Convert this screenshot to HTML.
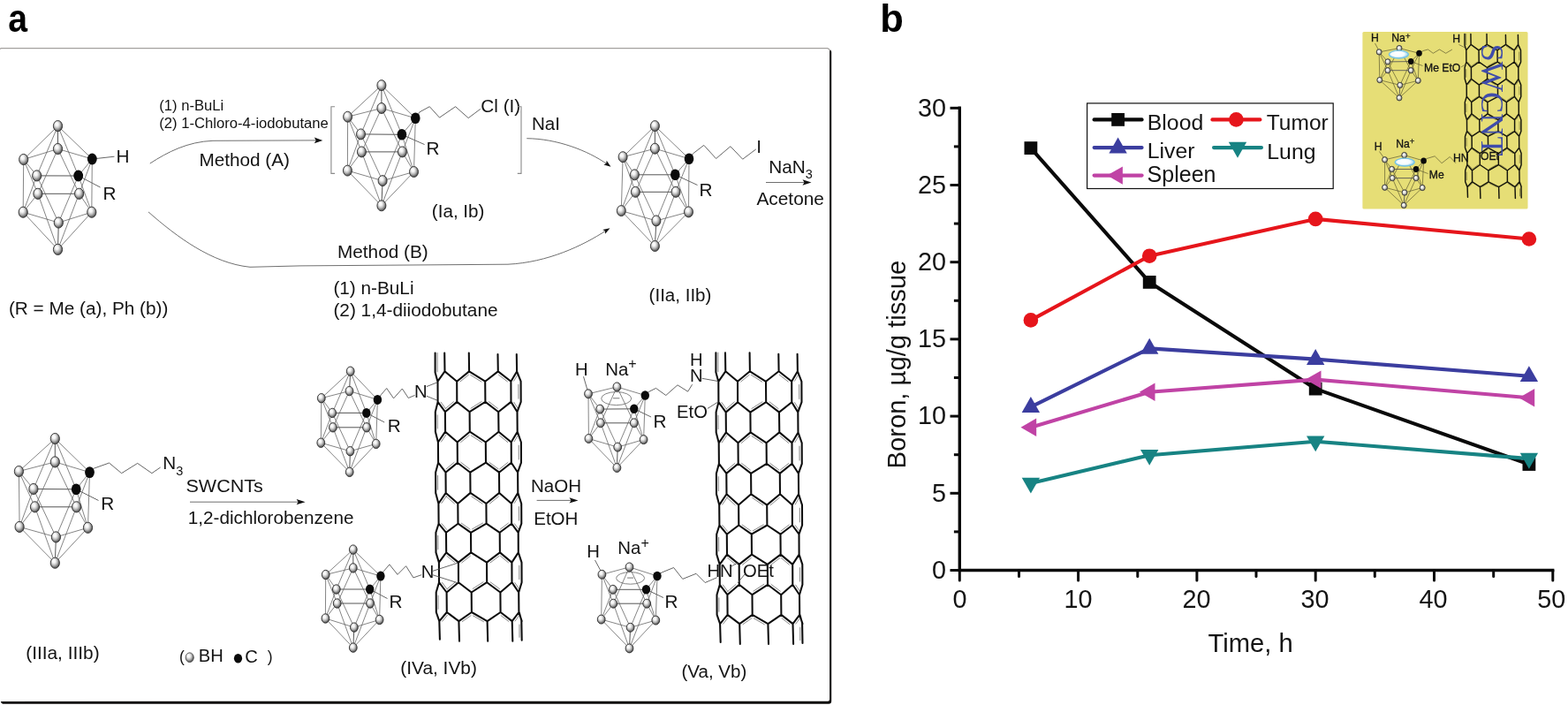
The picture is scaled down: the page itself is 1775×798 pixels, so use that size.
<!DOCTYPE html>
<html lang="en"><head><meta charset="utf-8"><title>Carborane-SWCNT synthesis and boron biodistribution</title>
<style>html,body{margin:0;padding:0;background:#fff}body{width:1775px;height:798px;overflow:hidden}svg{display:block}</style>
</head><body>
<svg width="1775" height="798" viewBox="0 0 1775 798" font-family="Liberation Sans, Arial, Helvetica, sans-serif" fill="#131313" role="img" aria-label="Synthesis scheme of carborane-appended SWCNTs and boron tissue distribution chart">
<defs>
<radialGradient id="sph" cx="0.44" cy="0.42" r="0.62" fx="0.36" fy="0.30"><stop offset="0" stop-color="#ffffff"/><stop offset="0.28" stop-color="#f4f4f4"/><stop offset="0.56" stop-color="#bcbcbc"/><stop offset="0.82" stop-color="#6e6e6e"/><stop offset="1" stop-color="#363636"/></radialGradient>
<radialGradient id="sphy" cx="0.5" cy="0.5" r="0.5" fx="0.36" fy="0.32"><stop offset="0" stop-color="#ffffff"/><stop offset="0.35" stop-color="#f2f2f0"/><stop offset="0.7" stop-color="#b4b4ac"/><stop offset="1" stop-color="#4a4a40"/></radialGradient>
<radialGradient id="bell" cx="0.45" cy="0.45" r="0.55"><stop offset="0" stop-color="#ffffff"/><stop offset="0.6" stop-color="#f6fbfd"/><stop offset="0.85" stop-color="#b4e0f2"/><stop offset="1" stop-color="#84cbe8"/></radialGradient>
</defs>
<rect width="1775" height="798" fill="#ffffff"/>
<path d="M0,55.6 L1.2,54.6 L936.8,54.6 Q938.6,55 939.4,57" stroke="#a3a09e" stroke-width="1.3" fill="none"/>
<path d="M939.1,57.6 L940.3,56.6 L941.2,58.5 L941.2,793.6 Q941.2,796.8 938,796.8 L3.2,796.8 Q1.6,796.3 0.8,793.9 L937.2,793.8 Q939.1,793.8 939.1,791.6 Z" fill="#0b0908"/>
<text transform="translate(9.2,35.9) scale(0.9,1)" font-size="43.5" font-weight="bold" fill="#000">a</text>
<text x="996.3" y="35.9" font-size="43.5" font-weight="bold" fill="#000">b</text>
<line x1="104.3" y1="180.0" x2="129.5" y2="177.2" stroke="#555" stroke-width="0.9"/>
<line x1="88.7" y1="199.0" x2="113.5" y2="212.0" stroke="#555" stroke-width="0.9"/>
<g>
<line x1="65.5" y1="142.6" x2="26.7" y2="180.5" stroke="#666" stroke-width="0.8"/>
<line x1="65.5" y1="142.6" x2="65.5" y2="168.5" stroke="#555" stroke-width="1.0"/>
<line x1="65.5" y1="142.6" x2="104.3" y2="180.0" stroke="#666" stroke-width="0.8"/>
<line x1="65.5" y1="142.6" x2="41.7" y2="198.9" stroke="#666" stroke-width="0.8"/>
<line x1="65.5" y1="142.6" x2="88.7" y2="199.0" stroke="#666" stroke-width="0.8"/>
<line x1="65.5" y1="168.5" x2="26.7" y2="180.5" stroke="#666" stroke-width="0.8"/>
<line x1="65.5" y1="168.5" x2="104.3" y2="180.0" stroke="#666" stroke-width="0.8"/>
<line x1="26.7" y1="180.5" x2="41.7" y2="198.9" stroke="#666" stroke-width="0.8"/>
<line x1="104.3" y1="180.0" x2="88.7" y2="199.0" stroke="#666" stroke-width="0.8"/>
<line x1="41.7" y1="198.9" x2="88.7" y2="199.0" stroke="#555" stroke-width="1.0"/>
<line x1="26.7" y1="180.5" x2="26.2" y2="240.2" stroke="#666" stroke-width="0.8"/>
<line x1="26.7" y1="180.5" x2="42.9" y2="219.3" stroke="#666" stroke-width="0.8"/>
<line x1="65.5" y1="168.5" x2="42.9" y2="219.3" stroke="#666" stroke-width="0.8"/>
<line x1="65.5" y1="168.5" x2="89.6" y2="219.3" stroke="#666" stroke-width="0.8"/>
<line x1="104.3" y1="180.0" x2="89.6" y2="219.3" stroke="#666" stroke-width="0.8"/>
<line x1="104.3" y1="180.0" x2="103.8" y2="240.2" stroke="#666" stroke-width="0.8"/>
<line x1="88.7" y1="199.0" x2="103.8" y2="240.2" stroke="#666" stroke-width="0.8"/>
<line x1="88.7" y1="199.0" x2="66.3" y2="252.0" stroke="#666" stroke-width="0.8"/>
<line x1="41.7" y1="198.9" x2="66.3" y2="252.0" stroke="#666" stroke-width="0.8"/>
<line x1="41.7" y1="198.9" x2="26.2" y2="240.2" stroke="#666" stroke-width="0.8"/>
<line x1="66.3" y1="252.0" x2="26.2" y2="240.2" stroke="#666" stroke-width="0.8"/>
<line x1="66.3" y1="252.0" x2="103.8" y2="240.2" stroke="#666" stroke-width="0.8"/>
<line x1="26.2" y1="240.2" x2="42.9" y2="219.3" stroke="#666" stroke-width="0.8"/>
<line x1="103.8" y1="240.2" x2="89.6" y2="219.3" stroke="#666" stroke-width="0.8"/>
<line x1="42.9" y1="219.3" x2="89.6" y2="219.3" stroke="#555" stroke-width="1.0"/>
<line x1="65.5" y1="282.4" x2="26.2" y2="240.2" stroke="#666" stroke-width="0.8"/>
<line x1="65.5" y1="282.4" x2="103.8" y2="240.2" stroke="#666" stroke-width="0.8"/>
<line x1="65.5" y1="282.4" x2="66.3" y2="252.0" stroke="#555" stroke-width="1.0"/>
<line x1="65.5" y1="282.4" x2="42.9" y2="219.3" stroke="#666" stroke-width="0.8"/>
<line x1="65.5" y1="282.4" x2="89.6" y2="219.3" stroke="#666" stroke-width="0.8"/>
<ellipse cx="65.5" cy="142.6" rx="5.1" ry="6.1" fill="url(#sph)" stroke="#2e2e2e" stroke-width="0.9"/>
<ellipse cx="65.5" cy="168.5" rx="5.1" ry="6.1" fill="url(#sph)" stroke="#2e2e2e" stroke-width="0.9"/>
<ellipse cx="26.7" cy="180.5" rx="5.1" ry="6.1" fill="url(#sph)" stroke="#2e2e2e" stroke-width="0.9"/>
<ellipse cx="104.3" cy="180.0" rx="5.4" ry="6.4" fill="#0a0a0a"/>
<ellipse cx="42.9" cy="219.3" rx="5.1" ry="6.1" fill="url(#sph)" stroke="#2e2e2e" stroke-width="0.9"/>
<ellipse cx="89.6" cy="219.3" rx="5.1" ry="6.1" fill="url(#sph)" stroke="#2e2e2e" stroke-width="0.9"/>
<ellipse cx="41.7" cy="198.9" rx="5.1" ry="6.1" fill="url(#sph)" stroke="#2e2e2e" stroke-width="0.9"/>
<ellipse cx="88.7" cy="199.0" rx="5.4" ry="6.4" fill="#0a0a0a"/>
<ellipse cx="26.2" cy="240.2" rx="5.1" ry="6.1" fill="url(#sph)" stroke="#2e2e2e" stroke-width="0.9"/>
<ellipse cx="103.8" cy="240.2" rx="5.1" ry="6.1" fill="url(#sph)" stroke="#2e2e2e" stroke-width="0.9"/>
<ellipse cx="66.3" cy="252.0" rx="5.1" ry="6.1" fill="url(#sph)" stroke="#2e2e2e" stroke-width="0.9"/>
<ellipse cx="65.5" cy="282.4" rx="5.1" ry="6.1" fill="url(#sph)" stroke="#2e2e2e" stroke-width="0.9"/>
</g>
<text x="131.4" y="183.8" font-size="20.76">H</text>
<text x="116.4" y="225.9" font-size="20.76">R</text>
<polyline points="470.3,133.8 475.0,126.8 486.3,120.7 497.5,133.1 515.6,120.7 530.2,133.6 543.8,123.4" stroke="#555" stroke-width="0.9" fill="none"/>
<line x1="454.9" y1="152.3" x2="480.6" y2="163.6" stroke="#555" stroke-width="0.9"/>
<g>
<line x1="431.9" y1="96.6" x2="393.6" y2="132.2" stroke="#666" stroke-width="0.8"/>
<line x1="431.9" y1="96.6" x2="431.9" y2="122.5" stroke="#555" stroke-width="1.0"/>
<line x1="431.9" y1="96.6" x2="470.3" y2="133.8" stroke="#666" stroke-width="0.8"/>
<line x1="431.9" y1="96.6" x2="408.5" y2="151.9" stroke="#666" stroke-width="0.8"/>
<line x1="431.9" y1="96.6" x2="454.9" y2="152.3" stroke="#666" stroke-width="0.8"/>
<line x1="431.9" y1="122.5" x2="393.6" y2="132.2" stroke="#666" stroke-width="0.8"/>
<line x1="431.9" y1="122.5" x2="470.3" y2="133.8" stroke="#666" stroke-width="0.8"/>
<line x1="393.6" y1="132.2" x2="408.5" y2="151.9" stroke="#666" stroke-width="0.8"/>
<line x1="470.3" y1="133.8" x2="454.9" y2="152.3" stroke="#666" stroke-width="0.8"/>
<line x1="408.5" y1="151.9" x2="454.9" y2="152.3" stroke="#555" stroke-width="1.0"/>
<line x1="393.6" y1="132.2" x2="393.4" y2="193.1" stroke="#666" stroke-width="0.8"/>
<line x1="393.6" y1="132.2" x2="409.4" y2="171.9" stroke="#666" stroke-width="0.8"/>
<line x1="431.9" y1="122.5" x2="409.4" y2="171.9" stroke="#666" stroke-width="0.8"/>
<line x1="431.9" y1="122.5" x2="455.4" y2="171.9" stroke="#666" stroke-width="0.8"/>
<line x1="470.3" y1="133.8" x2="455.4" y2="171.9" stroke="#666" stroke-width="0.8"/>
<line x1="470.3" y1="133.8" x2="468.5" y2="194.5" stroke="#666" stroke-width="0.8"/>
<line x1="454.9" y1="152.3" x2="468.5" y2="194.5" stroke="#666" stroke-width="0.8"/>
<line x1="454.9" y1="152.3" x2="433.1" y2="204.6" stroke="#666" stroke-width="0.8"/>
<line x1="408.5" y1="151.9" x2="433.1" y2="204.6" stroke="#666" stroke-width="0.8"/>
<line x1="408.5" y1="151.9" x2="393.4" y2="193.1" stroke="#666" stroke-width="0.8"/>
<line x1="433.1" y1="204.6" x2="393.4" y2="193.1" stroke="#666" stroke-width="0.8"/>
<line x1="433.1" y1="204.6" x2="468.5" y2="194.5" stroke="#666" stroke-width="0.8"/>
<line x1="393.4" y1="193.1" x2="409.4" y2="171.9" stroke="#666" stroke-width="0.8"/>
<line x1="468.5" y1="194.5" x2="455.4" y2="171.9" stroke="#666" stroke-width="0.8"/>
<line x1="409.4" y1="171.9" x2="455.4" y2="171.9" stroke="#555" stroke-width="1.0"/>
<line x1="431.9" y1="232.8" x2="393.4" y2="193.1" stroke="#666" stroke-width="0.8"/>
<line x1="431.9" y1="232.8" x2="468.5" y2="194.5" stroke="#666" stroke-width="0.8"/>
<line x1="431.9" y1="232.8" x2="433.1" y2="204.6" stroke="#555" stroke-width="1.0"/>
<line x1="431.9" y1="232.8" x2="409.4" y2="171.9" stroke="#666" stroke-width="0.8"/>
<line x1="431.9" y1="232.8" x2="455.4" y2="171.9" stroke="#666" stroke-width="0.8"/>
<ellipse cx="431.9" cy="96.6" rx="5.0" ry="6.0" fill="url(#sph)" stroke="#2e2e2e" stroke-width="0.9"/>
<ellipse cx="431.9" cy="122.5" rx="5.0" ry="6.0" fill="url(#sph)" stroke="#2e2e2e" stroke-width="0.9"/>
<ellipse cx="393.6" cy="132.2" rx="5.0" ry="6.0" fill="url(#sph)" stroke="#2e2e2e" stroke-width="0.9"/>
<ellipse cx="470.3" cy="133.8" rx="5.3" ry="6.3" fill="#0a0a0a"/>
<ellipse cx="409.4" cy="171.9" rx="5.0" ry="6.0" fill="url(#sph)" stroke="#2e2e2e" stroke-width="0.9"/>
<ellipse cx="455.4" cy="171.9" rx="5.0" ry="6.0" fill="url(#sph)" stroke="#2e2e2e" stroke-width="0.9"/>
<ellipse cx="408.5" cy="151.9" rx="5.0" ry="6.0" fill="url(#sph)" stroke="#2e2e2e" stroke-width="0.9"/>
<ellipse cx="454.9" cy="152.3" rx="5.3" ry="6.3" fill="#0a0a0a"/>
<ellipse cx="393.4" cy="193.1" rx="5.0" ry="6.0" fill="url(#sph)" stroke="#2e2e2e" stroke-width="0.9"/>
<ellipse cx="468.5" cy="194.5" rx="5.0" ry="6.0" fill="url(#sph)" stroke="#2e2e2e" stroke-width="0.9"/>
<ellipse cx="433.1" cy="204.6" rx="5.0" ry="6.0" fill="url(#sph)" stroke="#2e2e2e" stroke-width="0.9"/>
<ellipse cx="431.9" cy="232.8" rx="5.0" ry="6.0" fill="url(#sph)" stroke="#2e2e2e" stroke-width="0.9"/>
</g>
<text x="544.3" y="126.9" font-size="20.76">Cl (I)</text>
<text x="482.4" y="175.2" font-size="20.76">R</text>
<polyline points="379.0,120.8 374.9,120.8 374.9,196.4 379.0,196.4" stroke="#8a8a8a" stroke-width="1.1" fill="none"/>
<polyline points="585.8,120.8 590.0,120.8 590.0,196.4 585.8,196.4" stroke="#8a8a8a" stroke-width="1.1" fill="none"/>
<text x="488.8" y="246.3" font-size="20.65">(Ia, Ib)</text>
<polyline points="780.0,179.7 784.3,174.0 796.8,164.4 810.6,179.5 826.9,165.7 840.7,180.2 855.8,168.9" stroke="#555" stroke-width="0.9" fill="none"/>
<line x1="764.3" y1="197.8" x2="789.5" y2="209.5" stroke="#555" stroke-width="0.9"/>
<g>
<line x1="741.4" y1="142.6" x2="705.1" y2="177.7" stroke="#666" stroke-width="0.8"/>
<line x1="741.4" y1="142.6" x2="741.4" y2="168.2" stroke="#555" stroke-width="1.0"/>
<line x1="741.4" y1="142.6" x2="780.0" y2="179.7" stroke="#666" stroke-width="0.8"/>
<line x1="741.4" y1="142.6" x2="718.4" y2="197.8" stroke="#666" stroke-width="0.8"/>
<line x1="741.4" y1="142.6" x2="764.3" y2="197.8" stroke="#666" stroke-width="0.8"/>
<line x1="741.4" y1="168.2" x2="705.1" y2="177.7" stroke="#666" stroke-width="0.8"/>
<line x1="741.4" y1="168.2" x2="780.0" y2="179.7" stroke="#666" stroke-width="0.8"/>
<line x1="705.1" y1="177.7" x2="718.4" y2="197.8" stroke="#666" stroke-width="0.8"/>
<line x1="780.0" y1="179.7" x2="764.3" y2="197.8" stroke="#666" stroke-width="0.8"/>
<line x1="718.4" y1="197.8" x2="764.3" y2="197.8" stroke="#555" stroke-width="1.0"/>
<line x1="705.1" y1="177.7" x2="703.3" y2="238.6" stroke="#666" stroke-width="0.8"/>
<line x1="705.1" y1="177.7" x2="719.4" y2="217.3" stroke="#666" stroke-width="0.8"/>
<line x1="741.4" y1="168.2" x2="719.4" y2="217.3" stroke="#666" stroke-width="0.8"/>
<line x1="741.4" y1="168.2" x2="765.0" y2="217.3" stroke="#666" stroke-width="0.8"/>
<line x1="780.0" y1="179.7" x2="765.0" y2="217.3" stroke="#666" stroke-width="0.8"/>
<line x1="780.0" y1="179.7" x2="779.5" y2="239.9" stroke="#666" stroke-width="0.8"/>
<line x1="764.3" y1="197.8" x2="779.5" y2="239.9" stroke="#666" stroke-width="0.8"/>
<line x1="764.3" y1="197.8" x2="742.9" y2="249.9" stroke="#666" stroke-width="0.8"/>
<line x1="718.4" y1="197.8" x2="742.9" y2="249.9" stroke="#666" stroke-width="0.8"/>
<line x1="718.4" y1="197.8" x2="703.3" y2="238.6" stroke="#666" stroke-width="0.8"/>
<line x1="742.9" y1="249.9" x2="703.3" y2="238.6" stroke="#666" stroke-width="0.8"/>
<line x1="742.9" y1="249.9" x2="779.5" y2="239.9" stroke="#666" stroke-width="0.8"/>
<line x1="703.3" y1="238.6" x2="719.4" y2="217.3" stroke="#666" stroke-width="0.8"/>
<line x1="779.5" y1="239.9" x2="765.0" y2="217.3" stroke="#666" stroke-width="0.8"/>
<line x1="719.4" y1="217.3" x2="765.0" y2="217.3" stroke="#555" stroke-width="1.0"/>
<line x1="741.4" y1="278.5" x2="703.3" y2="238.6" stroke="#666" stroke-width="0.8"/>
<line x1="741.4" y1="278.5" x2="779.5" y2="239.9" stroke="#666" stroke-width="0.8"/>
<line x1="741.4" y1="278.5" x2="742.9" y2="249.9" stroke="#555" stroke-width="1.0"/>
<line x1="741.4" y1="278.5" x2="719.4" y2="217.3" stroke="#666" stroke-width="0.8"/>
<line x1="741.4" y1="278.5" x2="765.0" y2="217.3" stroke="#666" stroke-width="0.8"/>
<ellipse cx="741.4" cy="142.6" rx="5.0" ry="6.0" fill="url(#sph)" stroke="#2e2e2e" stroke-width="0.9"/>
<ellipse cx="741.4" cy="168.2" rx="5.0" ry="6.0" fill="url(#sph)" stroke="#2e2e2e" stroke-width="0.9"/>
<ellipse cx="705.1" cy="177.7" rx="5.0" ry="6.0" fill="url(#sph)" stroke="#2e2e2e" stroke-width="0.9"/>
<ellipse cx="780.0" cy="179.7" rx="5.3" ry="6.3" fill="#0a0a0a"/>
<ellipse cx="719.4" cy="217.3" rx="5.0" ry="6.0" fill="url(#sph)" stroke="#2e2e2e" stroke-width="0.9"/>
<ellipse cx="765.0" cy="217.3" rx="5.0" ry="6.0" fill="url(#sph)" stroke="#2e2e2e" stroke-width="0.9"/>
<ellipse cx="718.4" cy="197.8" rx="5.0" ry="6.0" fill="url(#sph)" stroke="#2e2e2e" stroke-width="0.9"/>
<ellipse cx="764.3" cy="197.8" rx="5.3" ry="6.3" fill="#0a0a0a"/>
<ellipse cx="703.3" cy="238.6" rx="5.0" ry="6.0" fill="url(#sph)" stroke="#2e2e2e" stroke-width="0.9"/>
<ellipse cx="779.5" cy="239.9" rx="5.0" ry="6.0" fill="url(#sph)" stroke="#2e2e2e" stroke-width="0.9"/>
<ellipse cx="742.9" cy="249.9" rx="5.0" ry="6.0" fill="url(#sph)" stroke="#2e2e2e" stroke-width="0.9"/>
<ellipse cx="741.4" cy="278.5" rx="5.0" ry="6.0" fill="url(#sph)" stroke="#2e2e2e" stroke-width="0.9"/>
</g>
<text x="856.2" y="173.0" font-size="20.76">I</text>
<text x="791.6" y="222.0" font-size="20.76">R</text>
<text x="734.6" y="341.1" font-size="20.55">(IIa, IIb)</text>
<text x="180.3" y="124.6" font-size="16.6">(1) n-BuLi</text>
<text x="180.3" y="144.9" font-size="16.65">(2) 1-Chloro-4-iodobutane</text>
<text x="225.4" y="187.7" font-size="20.76">Method (A)</text>
<text x="382.0" y="291.7" font-size="20.76">Method (B)</text>
<text x="377.4" y="333.1" font-size="20.76">(1) n-BuLi</text>
<text x="377.4" y="358.2" font-size="20.81">(2) 1,4-diiodobutane</text>
<text x="9.9" y="356.0" font-size="20.76">(R = Me (a), Ph (b))</text>
<text x="601.9" y="146.9" font-size="20.65">NaI</text>
<text x="870.2" y="195.7" font-size="20.8">NaN<tspan font-size="14.5" dy="6.2">3</tspan></text>
<text x="856.4" y="232.0" font-size="20.86">Acetone</text>
<path d="M169.8,185 C190,172 212,160.5 241,159.3 L358,158.9" stroke="#555" stroke-width="0.85" fill="none"/>
<polygon points="365.3,158.9 355.8,162.2 357.7,158.9 355.8,155.6" fill="#111"/>
<path d="M168,239.9 C200,268 240,298 283,302.3 L340,300.9 L575,299.2 C620,297 660,278 686,261" stroke="#555" stroke-width="0.85" fill="none"/>
<polygon points="690.5,258.3 685.1,264.8 685.0,261.6 682.2,260.0" fill="#111"/>
<path d="M596.3,156.7 C630,157 665,170 688,186.3" stroke="#555" stroke-width="0.85" fill="none"/>
<polygon points="691.5,188.8 683.4,186.4 686.3,185.0 686.7,181.8" fill="#111"/>
<line x1="867.0" y1="206.5" x2="912.0" y2="206.5" stroke="#555" stroke-width="0.85"/>
<polygon points="918.5,206.5 908.5,209.7 910.5,206.5 908.5,203.3" fill="#111"/>
<polyline points="101.5,534.6 106.5,530.1 123.6,524.0 137.6,535.7 155.7,524.4 171.9,535.7 181.6,529.0" stroke="#555" stroke-width="0.9" fill="none"/>
<line x1="86.2" y1="553.8" x2="111.5" y2="566.5" stroke="#555" stroke-width="0.9"/>
<g>
<line x1="62.3" y1="496.5" x2="21.4" y2="533.5" stroke="#666" stroke-width="0.8"/>
<line x1="62.3" y1="496.5" x2="62.3" y2="522.9" stroke="#555" stroke-width="1.0"/>
<line x1="62.3" y1="496.5" x2="101.5" y2="534.6" stroke="#666" stroke-width="0.8"/>
<line x1="62.3" y1="496.5" x2="37.9" y2="553.5" stroke="#666" stroke-width="0.8"/>
<line x1="62.3" y1="496.5" x2="86.2" y2="553.8" stroke="#666" stroke-width="0.8"/>
<line x1="62.3" y1="522.9" x2="21.4" y2="533.5" stroke="#666" stroke-width="0.8"/>
<line x1="62.3" y1="522.9" x2="101.5" y2="534.6" stroke="#666" stroke-width="0.8"/>
<line x1="21.4" y1="533.5" x2="37.9" y2="553.5" stroke="#666" stroke-width="0.8"/>
<line x1="101.5" y1="534.6" x2="86.2" y2="553.8" stroke="#666" stroke-width="0.8"/>
<line x1="37.9" y1="553.5" x2="86.2" y2="553.8" stroke="#555" stroke-width="1.0"/>
<line x1="21.4" y1="533.5" x2="22.1" y2="596.4" stroke="#666" stroke-width="0.8"/>
<line x1="21.4" y1="533.5" x2="39.5" y2="573.8" stroke="#666" stroke-width="0.8"/>
<line x1="62.3" y1="522.9" x2="39.5" y2="573.8" stroke="#666" stroke-width="0.8"/>
<line x1="62.3" y1="522.9" x2="86.6" y2="573.8" stroke="#666" stroke-width="0.8"/>
<line x1="101.5" y1="534.6" x2="86.6" y2="573.8" stroke="#666" stroke-width="0.8"/>
<line x1="101.5" y1="534.6" x2="99.5" y2="597.3" stroke="#666" stroke-width="0.8"/>
<line x1="86.2" y1="553.8" x2="99.5" y2="597.3" stroke="#666" stroke-width="0.8"/>
<line x1="86.2" y1="553.8" x2="63.4" y2="607.9" stroke="#666" stroke-width="0.8"/>
<line x1="37.9" y1="553.5" x2="63.4" y2="607.9" stroke="#666" stroke-width="0.8"/>
<line x1="37.9" y1="553.5" x2="22.1" y2="596.4" stroke="#666" stroke-width="0.8"/>
<line x1="63.4" y1="607.9" x2="22.1" y2="596.4" stroke="#666" stroke-width="0.8"/>
<line x1="63.4" y1="607.9" x2="99.5" y2="597.3" stroke="#666" stroke-width="0.8"/>
<line x1="22.1" y1="596.4" x2="39.5" y2="573.8" stroke="#666" stroke-width="0.8"/>
<line x1="99.5" y1="597.3" x2="86.6" y2="573.8" stroke="#666" stroke-width="0.8"/>
<line x1="39.5" y1="573.8" x2="86.6" y2="573.8" stroke="#555" stroke-width="1.0"/>
<line x1="62.3" y1="637.2" x2="22.1" y2="596.4" stroke="#666" stroke-width="0.8"/>
<line x1="62.3" y1="637.2" x2="99.5" y2="597.3" stroke="#666" stroke-width="0.8"/>
<line x1="62.3" y1="637.2" x2="63.4" y2="607.9" stroke="#555" stroke-width="1.0"/>
<line x1="62.3" y1="637.2" x2="39.5" y2="573.8" stroke="#666" stroke-width="0.8"/>
<line x1="62.3" y1="637.2" x2="86.6" y2="573.8" stroke="#666" stroke-width="0.8"/>
<ellipse cx="62.3" cy="496.5" rx="5.1" ry="6.1" fill="url(#sph)" stroke="#2e2e2e" stroke-width="0.9"/>
<ellipse cx="62.3" cy="522.9" rx="5.1" ry="6.1" fill="url(#sph)" stroke="#2e2e2e" stroke-width="0.9"/>
<ellipse cx="21.4" cy="533.5" rx="5.1" ry="6.1" fill="url(#sph)" stroke="#2e2e2e" stroke-width="0.9"/>
<ellipse cx="101.5" cy="534.6" rx="5.4" ry="6.4" fill="#0a0a0a"/>
<ellipse cx="39.5" cy="573.8" rx="5.1" ry="6.1" fill="url(#sph)" stroke="#2e2e2e" stroke-width="0.9"/>
<ellipse cx="86.6" cy="573.8" rx="5.1" ry="6.1" fill="url(#sph)" stroke="#2e2e2e" stroke-width="0.9"/>
<ellipse cx="37.9" cy="553.5" rx="5.1" ry="6.1" fill="url(#sph)" stroke="#2e2e2e" stroke-width="0.9"/>
<ellipse cx="86.2" cy="553.8" rx="5.4" ry="6.4" fill="#0a0a0a"/>
<ellipse cx="22.1" cy="596.4" rx="5.1" ry="6.1" fill="url(#sph)" stroke="#2e2e2e" stroke-width="0.9"/>
<ellipse cx="99.5" cy="597.3" rx="5.1" ry="6.1" fill="url(#sph)" stroke="#2e2e2e" stroke-width="0.9"/>
<ellipse cx="63.4" cy="607.9" rx="5.1" ry="6.1" fill="url(#sph)" stroke="#2e2e2e" stroke-width="0.9"/>
<ellipse cx="62.3" cy="637.2" rx="5.1" ry="6.1" fill="url(#sph)" stroke="#2e2e2e" stroke-width="0.9"/>
</g>
<text x="184.3" y="530.8" font-size="20.7">N<tspan font-size="14.5" dy="6.8">3</tspan></text>
<text x="114.2" y="577.2" font-size="20.76">R</text>
<text x="29.2" y="745.8" font-size="20.86">(IIIa, IIIb)</text>
<text x="210.5" y="556.9" font-size="20.76" textLength="87.3" lengthAdjust="spacingAndGlyphs">SWCNTs</text>
<line x1="215.0" y1="568.2" x2="339.0" y2="568.2" stroke="#555" stroke-width="0.85"/>
<polygon points="345.6,568.2 335.6,571.3 337.6,568.2 335.6,565.1" fill="#111"/>
<text x="212.8" y="593.2" font-size="20.71">1,2-dichlorobenzene</text>
<text x="202.9" y="749.4" font-size="17.5">(</text>
<ellipse cx="214.7" cy="744.2" rx="4.6" ry="5.4" fill="url(#sph)" stroke="#333" stroke-width="0.7"/>
<text x="224.8" y="749.4" font-size="20.15">BH</text>
<ellipse cx="269.5" cy="745.3" rx="4.6" ry="5.3" fill="#0a0a0a"/>
<text x="277.2" y="749.6" font-size="20.15">C</text>
<text x="302.8" y="749.4" font-size="17.5">)</text>
<polyline points="427.4,452.4 431.6,446.5 437.7,439.5 445.6,450.9 455.3,440.0 462.3,450.5 469.6,447.4" stroke="#555" stroke-width="0.9" fill="none"/>
<line x1="414.8" y1="467.4" x2="435.2" y2="478.0" stroke="#555" stroke-width="0.9"/>
<g>
<line x1="396.7" y1="420.2" x2="363.8" y2="450.7" stroke="#666" stroke-width="0.8"/>
<line x1="396.7" y1="420.2" x2="395.5" y2="442.6" stroke="#555" stroke-width="1.0"/>
<line x1="396.7" y1="420.2" x2="427.4" y2="452.4" stroke="#666" stroke-width="0.8"/>
<line x1="396.7" y1="420.2" x2="376.2" y2="467.4" stroke="#666" stroke-width="0.8"/>
<line x1="396.7" y1="420.2" x2="414.8" y2="467.4" stroke="#666" stroke-width="0.8"/>
<line x1="395.5" y1="442.6" x2="363.8" y2="450.7" stroke="#666" stroke-width="0.8"/>
<line x1="395.5" y1="442.6" x2="427.4" y2="452.4" stroke="#666" stroke-width="0.8"/>
<line x1="363.8" y1="450.7" x2="376.2" y2="467.4" stroke="#666" stroke-width="0.8"/>
<line x1="427.4" y1="452.4" x2="414.8" y2="467.4" stroke="#666" stroke-width="0.8"/>
<line x1="376.2" y1="467.4" x2="414.8" y2="467.4" stroke="#555" stroke-width="1.0"/>
<line x1="363.8" y1="450.7" x2="363.3" y2="501.2" stroke="#666" stroke-width="0.8"/>
<line x1="363.8" y1="450.7" x2="376.9" y2="483.8" stroke="#666" stroke-width="0.8"/>
<line x1="395.5" y1="442.6" x2="376.9" y2="483.8" stroke="#666" stroke-width="0.8"/>
<line x1="395.5" y1="442.6" x2="415.0" y2="483.8" stroke="#666" stroke-width="0.8"/>
<line x1="427.4" y1="452.4" x2="415.0" y2="483.8" stroke="#666" stroke-width="0.8"/>
<line x1="427.4" y1="452.4" x2="425.7" y2="502.4" stroke="#666" stroke-width="0.8"/>
<line x1="414.8" y1="467.4" x2="425.7" y2="502.4" stroke="#666" stroke-width="0.8"/>
<line x1="414.8" y1="467.4" x2="396.4" y2="510.7" stroke="#666" stroke-width="0.8"/>
<line x1="376.2" y1="467.4" x2="396.4" y2="510.7" stroke="#666" stroke-width="0.8"/>
<line x1="376.2" y1="467.4" x2="363.3" y2="501.2" stroke="#666" stroke-width="0.8"/>
<line x1="396.4" y1="510.7" x2="363.3" y2="501.2" stroke="#666" stroke-width="0.8"/>
<line x1="396.4" y1="510.7" x2="425.7" y2="502.4" stroke="#666" stroke-width="0.8"/>
<line x1="363.3" y1="501.2" x2="376.9" y2="483.8" stroke="#666" stroke-width="0.8"/>
<line x1="425.7" y1="502.4" x2="415.0" y2="483.8" stroke="#666" stroke-width="0.8"/>
<line x1="376.9" y1="483.8" x2="415.0" y2="483.8" stroke="#555" stroke-width="1.0"/>
<line x1="395.7" y1="534.3" x2="363.3" y2="501.2" stroke="#666" stroke-width="0.8"/>
<line x1="395.7" y1="534.3" x2="425.7" y2="502.4" stroke="#666" stroke-width="0.8"/>
<line x1="395.7" y1="534.3" x2="396.4" y2="510.7" stroke="#555" stroke-width="1.0"/>
<line x1="395.7" y1="534.3" x2="376.9" y2="483.8" stroke="#666" stroke-width="0.8"/>
<line x1="395.7" y1="534.3" x2="415.0" y2="483.8" stroke="#666" stroke-width="0.8"/>
<ellipse cx="396.7" cy="420.2" rx="4.4" ry="5.2" fill="url(#sph)" stroke="#2e2e2e" stroke-width="0.9"/>
<ellipse cx="395.5" cy="442.6" rx="4.4" ry="5.2" fill="url(#sph)" stroke="#2e2e2e" stroke-width="0.9"/>
<ellipse cx="363.8" cy="450.7" rx="4.4" ry="5.2" fill="url(#sph)" stroke="#2e2e2e" stroke-width="0.9"/>
<ellipse cx="427.4" cy="452.4" rx="4.7" ry="5.5" fill="#0a0a0a"/>
<ellipse cx="376.9" cy="483.8" rx="4.4" ry="5.2" fill="url(#sph)" stroke="#2e2e2e" stroke-width="0.9"/>
<ellipse cx="415.0" cy="483.8" rx="4.4" ry="5.2" fill="url(#sph)" stroke="#2e2e2e" stroke-width="0.9"/>
<ellipse cx="376.2" cy="467.4" rx="4.4" ry="5.2" fill="url(#sph)" stroke="#2e2e2e" stroke-width="0.9"/>
<ellipse cx="414.8" cy="467.4" rx="4.7" ry="5.5" fill="#0a0a0a"/>
<ellipse cx="363.3" cy="501.2" rx="4.4" ry="5.2" fill="url(#sph)" stroke="#2e2e2e" stroke-width="0.9"/>
<ellipse cx="425.7" cy="502.4" rx="4.4" ry="5.2" fill="url(#sph)" stroke="#2e2e2e" stroke-width="0.9"/>
<ellipse cx="396.4" cy="510.7" rx="4.4" ry="5.2" fill="url(#sph)" stroke="#2e2e2e" stroke-width="0.9"/>
<ellipse cx="395.7" cy="534.3" rx="4.4" ry="5.2" fill="url(#sph)" stroke="#2e2e2e" stroke-width="0.9"/>
</g>
<line x1="482.9" y1="437.6" x2="494.8" y2="432.9" stroke="#555" stroke-width="0.9"/>
<line x1="482.9" y1="448.3" x2="494.8" y2="453.1" stroke="#555" stroke-width="0.9"/>
<text x="468.9" y="449.5" font-size="20.25">N</text>
<text x="438.8" y="488.6" font-size="20.76">R</text>
<polyline points="430.9,652.1 434.2,646.8 440.9,638.9 450.0,650.4 459.6,640.7 467.9,653.9 477.2,650.7" stroke="#555" stroke-width="0.9" fill="none"/>
<line x1="418.7" y1="667.0" x2="438.5" y2="677.5" stroke="#555" stroke-width="0.9"/>
<g>
<line x1="399.8" y1="622.1" x2="368.7" y2="650.5" stroke="#666" stroke-width="0.8"/>
<line x1="399.8" y1="622.1" x2="399.8" y2="642.9" stroke="#555" stroke-width="1.0"/>
<line x1="399.8" y1="622.1" x2="430.9" y2="652.1" stroke="#666" stroke-width="0.8"/>
<line x1="399.8" y1="622.1" x2="380.8" y2="667.0" stroke="#666" stroke-width="0.8"/>
<line x1="399.8" y1="622.1" x2="418.7" y2="667.0" stroke="#666" stroke-width="0.8"/>
<line x1="399.8" y1="642.9" x2="368.7" y2="650.5" stroke="#666" stroke-width="0.8"/>
<line x1="399.8" y1="642.9" x2="430.9" y2="652.1" stroke="#666" stroke-width="0.8"/>
<line x1="368.7" y1="650.5" x2="380.8" y2="667.0" stroke="#666" stroke-width="0.8"/>
<line x1="430.9" y1="652.1" x2="418.7" y2="667.0" stroke="#666" stroke-width="0.8"/>
<line x1="380.8" y1="667.0" x2="418.7" y2="667.0" stroke="#555" stroke-width="1.0"/>
<line x1="368.7" y1="650.5" x2="368.4" y2="700.0" stroke="#666" stroke-width="0.8"/>
<line x1="368.7" y1="650.5" x2="381.7" y2="683.0" stroke="#666" stroke-width="0.8"/>
<line x1="399.8" y1="642.9" x2="381.7" y2="683.0" stroke="#666" stroke-width="0.8"/>
<line x1="399.8" y1="642.9" x2="419.0" y2="683.0" stroke="#666" stroke-width="0.8"/>
<line x1="430.9" y1="652.1" x2="419.0" y2="683.0" stroke="#666" stroke-width="0.8"/>
<line x1="430.9" y1="652.1" x2="429.6" y2="701.5" stroke="#666" stroke-width="0.8"/>
<line x1="418.7" y1="667.0" x2="429.6" y2="701.5" stroke="#666" stroke-width="0.8"/>
<line x1="418.7" y1="667.0" x2="400.9" y2="710.1" stroke="#666" stroke-width="0.8"/>
<line x1="380.8" y1="667.0" x2="400.9" y2="710.1" stroke="#666" stroke-width="0.8"/>
<line x1="380.8" y1="667.0" x2="368.4" y2="700.0" stroke="#666" stroke-width="0.8"/>
<line x1="400.9" y1="710.1" x2="368.4" y2="700.0" stroke="#666" stroke-width="0.8"/>
<line x1="400.9" y1="710.1" x2="429.6" y2="701.5" stroke="#666" stroke-width="0.8"/>
<line x1="368.4" y1="700.0" x2="381.7" y2="683.0" stroke="#666" stroke-width="0.8"/>
<line x1="429.6" y1="701.5" x2="419.0" y2="683.0" stroke="#666" stroke-width="0.8"/>
<line x1="381.7" y1="683.0" x2="419.0" y2="683.0" stroke="#555" stroke-width="1.0"/>
<line x1="399.8" y1="733.1" x2="368.4" y2="700.0" stroke="#666" stroke-width="0.8"/>
<line x1="399.8" y1="733.1" x2="429.6" y2="701.5" stroke="#666" stroke-width="0.8"/>
<line x1="399.8" y1="733.1" x2="400.9" y2="710.1" stroke="#555" stroke-width="1.0"/>
<line x1="399.8" y1="733.1" x2="381.7" y2="683.0" stroke="#666" stroke-width="0.8"/>
<line x1="399.8" y1="733.1" x2="419.0" y2="683.0" stroke="#666" stroke-width="0.8"/>
<ellipse cx="399.8" cy="622.1" rx="4.4" ry="5.2" fill="url(#sph)" stroke="#2e2e2e" stroke-width="0.9"/>
<ellipse cx="399.8" cy="642.9" rx="4.4" ry="5.2" fill="url(#sph)" stroke="#2e2e2e" stroke-width="0.9"/>
<ellipse cx="368.7" cy="650.5" rx="4.4" ry="5.2" fill="url(#sph)" stroke="#2e2e2e" stroke-width="0.9"/>
<ellipse cx="430.9" cy="652.1" rx="4.7" ry="5.5" fill="#0a0a0a"/>
<ellipse cx="381.7" cy="683.0" rx="4.4" ry="5.2" fill="url(#sph)" stroke="#2e2e2e" stroke-width="0.9"/>
<ellipse cx="419.0" cy="683.0" rx="4.4" ry="5.2" fill="url(#sph)" stroke="#2e2e2e" stroke-width="0.9"/>
<ellipse cx="380.8" cy="667.0" rx="4.4" ry="5.2" fill="url(#sph)" stroke="#2e2e2e" stroke-width="0.9"/>
<ellipse cx="418.7" cy="667.0" rx="4.7" ry="5.5" fill="#0a0a0a"/>
<ellipse cx="368.4" cy="700.0" rx="4.4" ry="5.2" fill="url(#sph)" stroke="#2e2e2e" stroke-width="0.9"/>
<ellipse cx="429.6" cy="701.5" rx="4.4" ry="5.2" fill="url(#sph)" stroke="#2e2e2e" stroke-width="0.9"/>
<ellipse cx="400.9" cy="710.1" rx="4.4" ry="5.2" fill="url(#sph)" stroke="#2e2e2e" stroke-width="0.9"/>
<ellipse cx="399.8" cy="733.1" rx="4.4" ry="5.2" fill="url(#sph)" stroke="#2e2e2e" stroke-width="0.9"/>
</g>
<text x="440.6" y="687.5" font-size="20.76">R</text>
<text x="453.3" y="762.9" font-size="20.86">(IVa, IVb)</text>
<g stroke-linecap="round">
<path d="M495.1,399.5L495.1,420.9M521.0,431.9L530.5,424.2M532.6,424.4L544.9,432.1M564.5,424.3L574.4,431.9M581.7,431.2L586.3,423.5M586.9,435.4L587.0,451.2M499.1,455.2L504.7,462.9M504.4,462.4L513.5,454.7M533.0,462.2L545.2,454.5M553.3,454.6L563.4,462.3M581.8,455.3L586.6,463.0M495.2,469.8L495.3,485.1M499.4,500.1L504.9,492.1M521.6,500.6L531.2,492.6M533.2,492.8L545.5,500.8M565.1,492.6L574.8,500.6M582.1,499.9L586.8,491.9M587.2,504.2L587.3,520.0M505.0,530.9L514.1,523.4M521.8,523.4L531.6,530.9M553.9,523.4L564.1,530.8M565.6,530.9L575.0,523.4M495.5,538.4L495.6,554.2M499.9,569.5L505.5,561.3M505.1,561.8L514.4,570.0M533.9,562.0L546.1,570.2M554.4,570.1L564.5,561.8M582.4,569.4L587.4,561.2M587.5,573.6L587.6,589.1M499.9,592.6L505.7,599.5M522.3,592.2L532.1,599.1M534.5,598.9L546.5,592.1M566.3,599.1L575.4,592.2M582.4,592.8L587.5,599.6M495.8,606.4L495.9,621.8M505.8,629.2L515.0,636.8M522.8,636.9L532.5,629.2M555.0,636.9L565.1,629.3M566.4,629.2L575.5,636.8M587.8,640.2L587.8,655.6M500.5,659.4L506.3,667.1M506.1,666.7L515.2,659.0M535.1,666.5L547.0,658.8M555.2,658.9L565.5,666.6M582.8,659.5L588.1,667.2M496.1,674.1L496.1,689.4M500.7,703.2L506.4,696.3M523.2,703.6L533.1,696.7M535.5,696.9L547.5,703.7M567.1,696.7L576.0,703.5M583.0,703.1L588.2,696.2M588.0,707.0L588.0,721.3" stroke="#6a6a6a" stroke-width="0.8" fill="none"/>
<path d="M503.2,399.5L503.5,420.4M530.8,399.5L531.1,420.4M563.5,401.0L563.8,420.4M584.8,401.0L585.1,420.4M492.6,399.5L492.6,421.4M492.6,421.4L495.4,431.7M495.5,431.7L503.5,420.4M503.5,420.4L517.2,431.7M517.2,431.7L531.1,420.4M531.1,420.4L549.2,431.7M549.2,431.7L563.8,420.4M563.8,420.4L578.4,431.7M578.4,431.7L585.1,420.4M585.1,420.4L589.6,431.7M495.5,431.7L495.6,454.9M517.2,431.7L517.3,454.9M549.2,431.7L549.4,454.9M578.4,431.7L578.5,454.9M589.6,431.7L589.7,454.9M492.8,466.2L495.6,454.9M495.6,454.9L503.9,466.2M503.9,466.2L517.3,454.9M517.3,454.9L531.6,466.2M531.6,466.2L549.4,454.9M549.4,454.9L564.2,466.2M564.2,466.2L578.5,454.9M578.5,454.9L585.5,466.2M585.5,466.2L589.7,454.9M503.9,466.2L504.1,488.7M531.6,466.2L531.8,488.7M564.2,466.2L564.5,488.7M585.5,466.2L585.7,488.7M492.8,466.2L492.9,488.7M492.9,488.7L495.9,500.5M495.9,500.5L504.1,488.7M504.1,488.7L517.7,500.5M517.7,500.5L531.8,488.7M531.8,488.7L549.8,500.5M549.8,500.5L564.5,488.7M564.5,488.7L578.7,500.5M578.7,500.5L585.7,488.7M585.7,488.7L589.9,500.5M495.9,500.5L496.1,523.7M517.7,500.5L517.9,523.7M549.8,500.5L550.0,523.7M578.7,500.5L578.8,523.7M589.9,500.5L590.0,523.7M493.1,534.7L496.1,523.7M496.1,523.7L504.5,534.7M504.5,534.7L517.9,523.7M517.9,523.7L532.3,534.7M532.3,534.7L550.0,523.7M550.0,523.7L565.0,534.7M565.0,534.7L578.8,523.7M578.8,523.7L586.1,534.7M586.1,534.7L590.0,523.7M504.5,534.7L504.7,557.9M532.3,534.7L532.5,557.9M565.0,534.7L565.2,557.9M586.1,534.7L586.3,557.9M493.1,534.7L493.2,557.9M493.2,557.9L496.4,570.0M496.4,570.0L504.7,557.9M504.7,557.9L518.3,570.0M518.3,570.0L532.5,557.9M532.5,557.9L550.4,570.0M550.4,570.0L565.2,557.9M565.2,557.9L579.0,570.0M579.0,570.0L586.3,557.9M586.3,557.9L590.2,570.0M496.4,570.0L496.6,592.7M518.3,570.0L518.5,592.7M550.4,570.0L550.6,592.7M579.0,570.0L579.1,592.7M590.2,570.0L590.3,592.7M493.4,602.8L496.6,592.7M496.6,592.7L505.0,602.8M505.0,602.8L518.5,592.7M518.5,592.7L533.0,602.8M533.0,602.8L550.6,592.7M550.6,592.7L565.7,602.8M565.7,602.8L579.1,592.7M579.1,592.7L586.7,602.8M586.7,602.8L590.3,592.7M505.0,602.8L505.2,625.4M533.0,602.8L533.2,625.4M565.7,602.8L565.9,625.4M586.7,602.8L586.8,625.4M493.4,602.8L493.5,625.4M493.5,625.4L496.9,636.6M496.9,636.6L505.2,625.4M505.2,625.4L518.9,636.6M518.9,636.6L533.2,625.4M533.2,625.4L551.0,636.6M551.0,636.6L565.9,625.4M565.9,625.4L579.4,636.6M579.4,636.6L586.8,625.4M586.8,625.4L590.5,636.6M496.9,636.6L497.0,659.2M518.9,636.6L519.0,659.2M551.0,636.6L551.2,659.2M579.4,636.6L579.5,659.2M590.5,636.6L590.6,659.2M493.7,670.5L497.0,659.2M497.0,659.2L505.6,670.5M505.6,670.5L519.0,659.2M519.0,659.2L533.7,670.5M533.7,670.5L551.2,659.2M551.2,659.2L566.4,670.5M566.4,670.5L579.5,659.2M579.5,659.2L587.2,670.5M587.2,670.5L590.6,659.2M505.6,670.5L505.8,693.0M533.7,670.5L533.9,693.0M566.4,670.5L566.6,693.0M587.2,670.5L587.4,693.0M493.7,670.5L493.8,693.0M493.8,693.0L497.3,703.1M497.3,703.1L505.8,693.0M505.8,693.0L519.4,703.1M519.4,703.1L533.9,693.0M533.9,693.0L551.6,703.1M551.6,703.1L566.6,693.0M566.6,693.0L579.7,703.1M579.7,703.1L587.4,693.0M587.4,693.0L590.7,703.1M497.3,703.1L497.9,723.7M519.4,703.1L520.0,725.7M551.6,703.1L552.2,725.7M579.7,703.1L580.3,725.7M587.7,693.0L590.3,702.3M590.3,702.3L590.7,724.7" stroke="#0d0d0d" stroke-width="2.05" fill="none" stroke-linejoin="round"/>
</g>
<line x1="490.0" y1="646.3" x2="518.2" y2="637.2" stroke="#555" stroke-width="0.9"/>
<line x1="490.0" y1="650.8" x2="518.2" y2="659.8" stroke="#555" stroke-width="0.9"/>
<text x="476.8" y="653.5" font-size="20.25">N</text>
<text x="600.9" y="557.2" font-size="20.55">NaOH</text>
<line x1="607.6" y1="566.4" x2="648.0" y2="566.4" stroke="#555" stroke-width="0.85"/>
<polygon points="654.5,566.4 644.5,569.5 646.5,566.4 644.5,563.3" fill="#111"/>
<text x="604.2" y="593.5" font-size="20.55">EtOH</text>
<line x1="660.5" y1="426.2" x2="665.2" y2="442.2" stroke="#555" stroke-width="0.9"/>
<polyline points="730.3,447.5 735.0,443.2 742.5,439.4 753.8,447.5 767.0,435.8 778.7,443.2 783.6,435.2" stroke="#555" stroke-width="0.9" fill="none"/>
<line x1="717.8" y1="462.8" x2="737.1" y2="472.0" stroke="#555" stroke-width="0.9"/>
<g>
<ellipse cx="697.7" cy="451.1" rx="17.0" ry="7.5" fill="none" stroke="#777" stroke-width="0.9"/>
<line x1="694.0" y1="450.8" x2="701.4" y2="450.8" stroke="#666" stroke-width="0.9"/>
<line x1="698.4" y1="437.9" x2="666.0" y2="445.8" stroke="#666" stroke-width="0.8"/>
<line x1="698.4" y1="437.9" x2="730.3" y2="447.5" stroke="#666" stroke-width="0.8"/>
<line x1="666.0" y1="445.8" x2="679.2" y2="463.1" stroke="#666" stroke-width="0.8"/>
<line x1="730.3" y1="447.5" x2="717.8" y2="462.8" stroke="#666" stroke-width="0.8"/>
<line x1="679.2" y1="463.1" x2="717.8" y2="462.8" stroke="#555" stroke-width="1.0"/>
<line x1="666.0" y1="445.8" x2="666.4" y2="496.5" stroke="#666" stroke-width="0.8"/>
<line x1="666.0" y1="445.8" x2="679.9" y2="478.8" stroke="#666" stroke-width="0.8"/>
<line x1="698.4" y1="437.9" x2="679.9" y2="478.8" stroke="#666" stroke-width="0.8"/>
<line x1="698.4" y1="437.9" x2="717.8" y2="478.8" stroke="#666" stroke-width="0.8"/>
<line x1="730.3" y1="447.5" x2="717.8" y2="478.8" stroke="#666" stroke-width="0.8"/>
<line x1="730.3" y1="447.5" x2="728.6" y2="497.6" stroke="#666" stroke-width="0.8"/>
<line x1="717.8" y1="462.8" x2="728.6" y2="497.6" stroke="#666" stroke-width="0.8"/>
<line x1="717.8" y1="462.8" x2="699.2" y2="506.1" stroke="#666" stroke-width="0.8"/>
<line x1="679.2" y1="463.1" x2="699.2" y2="506.1" stroke="#666" stroke-width="0.8"/>
<line x1="679.2" y1="463.1" x2="666.4" y2="496.5" stroke="#666" stroke-width="0.8"/>
<line x1="699.2" y1="506.1" x2="666.4" y2="496.5" stroke="#666" stroke-width="0.8"/>
<line x1="699.2" y1="506.1" x2="728.6" y2="497.6" stroke="#666" stroke-width="0.8"/>
<line x1="666.4" y1="496.5" x2="679.9" y2="478.8" stroke="#666" stroke-width="0.8"/>
<line x1="728.6" y1="497.6" x2="717.8" y2="478.8" stroke="#666" stroke-width="0.8"/>
<line x1="679.9" y1="478.8" x2="717.8" y2="478.8" stroke="#555" stroke-width="1.0"/>
<line x1="698.4" y1="529.5" x2="666.4" y2="496.5" stroke="#666" stroke-width="0.8"/>
<line x1="698.4" y1="529.5" x2="728.6" y2="497.6" stroke="#666" stroke-width="0.8"/>
<line x1="698.4" y1="529.5" x2="699.2" y2="506.1" stroke="#555" stroke-width="1.0"/>
<line x1="698.4" y1="529.5" x2="679.9" y2="478.8" stroke="#666" stroke-width="0.8"/>
<line x1="698.4" y1="529.5" x2="717.8" y2="478.8" stroke="#666" stroke-width="0.8"/>
<ellipse cx="698.4" cy="437.9" rx="4.4" ry="5.0" fill="url(#sph)" stroke="#2e2e2e" stroke-width="0.9"/>
<ellipse cx="666.0" cy="445.8" rx="4.4" ry="5.0" fill="url(#sph)" stroke="#2e2e2e" stroke-width="0.9"/>
<ellipse cx="730.3" cy="447.5" rx="4.7" ry="5.3" fill="#0a0a0a"/>
<ellipse cx="679.9" cy="478.8" rx="4.4" ry="5.0" fill="url(#sph)" stroke="#2e2e2e" stroke-width="0.9"/>
<ellipse cx="717.8" cy="478.8" rx="4.4" ry="5.0" fill="url(#sph)" stroke="#2e2e2e" stroke-width="0.9"/>
<ellipse cx="679.2" cy="463.1" rx="4.4" ry="5.0" fill="url(#sph)" stroke="#2e2e2e" stroke-width="0.9"/>
<ellipse cx="717.8" cy="462.8" rx="4.7" ry="5.3" fill="#0a0a0a"/>
<ellipse cx="666.4" cy="496.5" rx="4.4" ry="5.0" fill="url(#sph)" stroke="#2e2e2e" stroke-width="0.9"/>
<ellipse cx="728.6" cy="497.6" rx="4.4" ry="5.0" fill="url(#sph)" stroke="#2e2e2e" stroke-width="0.9"/>
<ellipse cx="699.2" cy="506.1" rx="4.4" ry="5.0" fill="url(#sph)" stroke="#2e2e2e" stroke-width="0.9"/>
<ellipse cx="698.4" cy="529.5" rx="4.4" ry="5.0" fill="url(#sph)" stroke="#2e2e2e" stroke-width="0.9"/>
</g>
<text x="650.9" y="424.8" font-size="20.25">H</text>
<text x="685.2" y="424.8" font-size="20.4">Na<tspan font-size="16" dy="-7.5">+</tspan></text>
<text x="739.4" y="483.9" font-size="20.76">R</text>
<line x1="673.5" y1="634.0" x2="680.5" y2="647.0" stroke="#555" stroke-width="0.9"/>
<polyline points="744.0,652.0 749.1,648.0 762.6,642.5 772.8,655.4 788.0,649.3 798.2,659.5 811.7,653.7" stroke="#555" stroke-width="0.9" fill="none"/>
<line x1="731.5" y1="667.3" x2="751.0" y2="676.5" stroke="#555" stroke-width="0.9"/>
<g>
<ellipse cx="713.6" cy="654.4" rx="16.0" ry="6.8" fill="none" stroke="#777" stroke-width="0.9"/>
<line x1="710.1" y1="654.1" x2="717.1" y2="654.1" stroke="#666" stroke-width="0.9"/>
<line x1="712.5" y1="641.9" x2="681.4" y2="650.3" stroke="#666" stroke-width="0.8"/>
<line x1="712.5" y1="641.9" x2="744.0" y2="652.0" stroke="#666" stroke-width="0.8"/>
<line x1="681.4" y1="650.3" x2="693.9" y2="667.3" stroke="#666" stroke-width="0.8"/>
<line x1="744.0" y1="652.0" x2="731.5" y2="667.3" stroke="#666" stroke-width="0.8"/>
<line x1="693.9" y1="667.3" x2="731.5" y2="667.3" stroke="#555" stroke-width="1.0"/>
<line x1="681.4" y1="650.3" x2="680.7" y2="701.1" stroke="#666" stroke-width="0.8"/>
<line x1="681.4" y1="650.3" x2="694.3" y2="683.2" stroke="#666" stroke-width="0.8"/>
<line x1="712.5" y1="641.9" x2="694.3" y2="683.2" stroke="#666" stroke-width="0.8"/>
<line x1="712.5" y1="641.9" x2="732.2" y2="683.2" stroke="#666" stroke-width="0.8"/>
<line x1="744.0" y1="652.0" x2="732.2" y2="683.2" stroke="#666" stroke-width="0.8"/>
<line x1="744.0" y1="652.0" x2="742.3" y2="702.1" stroke="#666" stroke-width="0.8"/>
<line x1="731.5" y1="667.3" x2="742.3" y2="702.1" stroke="#666" stroke-width="0.8"/>
<line x1="731.5" y1="667.3" x2="713.6" y2="710.3" stroke="#666" stroke-width="0.8"/>
<line x1="693.9" y1="667.3" x2="713.6" y2="710.3" stroke="#666" stroke-width="0.8"/>
<line x1="693.9" y1="667.3" x2="680.7" y2="701.1" stroke="#666" stroke-width="0.8"/>
<line x1="713.6" y1="710.3" x2="680.7" y2="701.1" stroke="#666" stroke-width="0.8"/>
<line x1="713.6" y1="710.3" x2="742.3" y2="702.1" stroke="#666" stroke-width="0.8"/>
<line x1="680.7" y1="701.1" x2="694.3" y2="683.2" stroke="#666" stroke-width="0.8"/>
<line x1="742.3" y1="702.1" x2="732.2" y2="683.2" stroke="#666" stroke-width="0.8"/>
<line x1="694.3" y1="683.2" x2="732.2" y2="683.2" stroke="#555" stroke-width="1.0"/>
<line x1="712.5" y1="733.9" x2="680.7" y2="701.1" stroke="#666" stroke-width="0.8"/>
<line x1="712.5" y1="733.9" x2="742.3" y2="702.1" stroke="#666" stroke-width="0.8"/>
<line x1="712.5" y1="733.9" x2="713.6" y2="710.3" stroke="#555" stroke-width="1.0"/>
<line x1="712.5" y1="733.9" x2="694.3" y2="683.2" stroke="#666" stroke-width="0.8"/>
<line x1="712.5" y1="733.9" x2="732.2" y2="683.2" stroke="#666" stroke-width="0.8"/>
<ellipse cx="712.5" cy="641.9" rx="4.4" ry="5.0" fill="url(#sph)" stroke="#2e2e2e" stroke-width="0.9"/>
<ellipse cx="681.4" cy="650.3" rx="4.4" ry="5.0" fill="url(#sph)" stroke="#2e2e2e" stroke-width="0.9"/>
<ellipse cx="744.0" cy="652.0" rx="4.7" ry="5.3" fill="#0a0a0a"/>
<ellipse cx="694.3" cy="683.2" rx="4.4" ry="5.0" fill="url(#sph)" stroke="#2e2e2e" stroke-width="0.9"/>
<ellipse cx="732.2" cy="683.2" rx="4.4" ry="5.0" fill="url(#sph)" stroke="#2e2e2e" stroke-width="0.9"/>
<ellipse cx="693.9" cy="667.3" rx="4.4" ry="5.0" fill="url(#sph)" stroke="#2e2e2e" stroke-width="0.9"/>
<ellipse cx="731.5" cy="667.3" rx="4.7" ry="5.3" fill="#0a0a0a"/>
<ellipse cx="680.7" cy="701.1" rx="4.4" ry="5.0" fill="url(#sph)" stroke="#2e2e2e" stroke-width="0.9"/>
<ellipse cx="742.3" cy="702.1" rx="4.4" ry="5.0" fill="url(#sph)" stroke="#2e2e2e" stroke-width="0.9"/>
<ellipse cx="713.6" cy="710.3" rx="4.4" ry="5.0" fill="url(#sph)" stroke="#2e2e2e" stroke-width="0.9"/>
<ellipse cx="712.5" cy="733.9" rx="4.4" ry="5.0" fill="url(#sph)" stroke="#2e2e2e" stroke-width="0.9"/>
</g>
<text x="664.2" y="631.0" font-size="20.25">H</text>
<text x="699.3" y="627.0" font-size="20.4">Na<tspan font-size="16" dy="-7.5">+</tspan></text>
<text x="752.4" y="687.6" font-size="20.76">R</text>
<text x="771.5" y="767.4" font-size="20.55">(Va, Vb)</text>
<g stroke-linecap="round">
<path d="M812.9,399.2L812.9,420.8M838.8,432.0L848.3,424.2M850.4,424.4L862.7,432.2M882.3,424.2L892.2,432.0M899.5,431.3L904.1,423.5M904.7,435.5L904.8,451.5M816.9,455.5L822.5,463.3M822.2,462.8L831.3,455.0M850.8,462.6L863.0,454.8M871.1,454.9L881.2,462.7M899.6,455.6L904.4,463.4M813.0,470.3L813.1,485.7M817.2,500.9L822.7,492.8M839.4,501.4L849.0,493.3M851.0,493.5L863.3,501.6M882.9,493.3L892.6,501.4M899.9,500.7L904.6,492.6M905.0,505.1L905.1,521.0M822.8,532.1L831.9,524.5M839.6,524.5L849.4,532.0M871.7,524.4L881.9,532.0M883.4,532.0L892.8,524.5M813.3,539.6L813.4,555.6M817.7,571.1L823.3,562.8M822.9,563.3L832.2,571.6M851.7,563.5L863.9,571.8M872.2,571.7L882.3,563.3M900.2,571.0L905.2,562.7M905.3,575.2L905.4,590.9M817.7,594.5L823.5,601.4M840.1,594.0L849.9,600.9M852.3,600.8L864.3,593.9M884.1,601.0L893.2,594.1M900.2,594.6L905.3,601.5M813.6,608.4L813.7,623.9M823.6,631.4L832.8,639.1M840.6,639.2L850.3,631.5M872.8,639.2L882.9,631.5M884.2,631.4L893.3,639.1M905.6,642.6L905.6,658.1M818.3,662.0L824.1,669.8M823.9,669.3L833.0,661.6M852.9,669.1L864.8,661.4M873.0,661.5L883.3,669.2M900.6,662.1L905.9,669.9M813.9,676.8L813.9,692.3M818.5,706.2L824.2,699.2M841.0,706.7L850.9,699.7M853.3,699.8L865.3,706.8M884.9,699.6L893.8,706.6M900.8,706.1L906.0,699.2M905.8,710.1L905.8,724.6" stroke="#6a6a6a" stroke-width="0.8" fill="none"/>
<path d="M821.0,399.2L821.3,420.3M848.6,399.2L848.9,420.3M881.3,400.7L881.6,420.3M902.6,400.7L902.9,420.3M810.4,399.2L810.4,421.3M810.4,421.3L813.2,431.8M813.3,431.8L821.3,420.3M821.3,420.3L835.0,431.8M835.0,431.8L848.9,420.3M848.9,420.3L867.0,431.8M867.0,431.8L881.6,420.3M881.6,420.3L896.2,431.8M896.2,431.8L902.9,420.3M902.9,420.3L907.4,431.8M813.3,431.8L813.4,455.2M835.0,431.8L835.1,455.2M867.0,431.8L867.2,455.2M896.2,431.8L896.3,455.2M907.4,431.8L907.5,455.2M810.6,466.6L813.4,455.2M813.4,455.2L821.7,466.6M821.7,466.6L835.1,455.2M835.1,455.2L849.4,466.6M849.4,466.6L867.2,455.2M867.2,455.2L882.0,466.6M882.0,466.6L896.3,455.2M896.3,455.2L903.3,466.6M903.3,466.6L907.5,455.2M821.7,466.6L821.9,489.4M849.4,466.6L849.6,489.4M882.0,466.6L882.3,489.4M903.3,466.6L903.5,489.4M810.6,466.6L810.7,489.4M810.7,489.4L813.7,501.3M813.7,501.3L821.9,489.4M821.9,489.4L835.5,501.3M835.5,501.3L849.6,489.4M849.6,489.4L867.6,501.3M867.6,501.3L882.3,489.4M882.3,489.4L896.5,501.3M896.5,501.3L903.5,489.4M903.5,489.4L907.7,501.3M813.7,501.3L813.9,524.8M835.5,501.3L835.7,524.8M867.6,501.3L867.8,524.8M896.5,501.3L896.6,524.8M907.7,501.3L907.8,524.8M810.9,535.9L813.9,524.8M813.9,524.8L822.3,535.9M822.3,535.9L835.7,524.8M835.7,524.8L850.1,535.9M850.1,535.9L867.8,524.8M867.8,524.8L882.8,535.9M882.8,535.9L896.6,524.8M896.6,524.8L903.9,535.9M903.9,535.9L907.8,524.8M822.3,535.9L822.5,559.3M850.1,535.9L850.3,559.3M882.8,535.9L883.0,559.3M903.9,535.9L904.1,559.3M810.9,535.9L811.0,559.3M811.0,559.3L814.2,571.6M814.2,571.6L822.5,559.3M822.5,559.3L836.1,571.6M836.1,571.6L850.3,559.3M850.3,559.3L868.2,571.6M868.2,571.6L883.0,559.3M883.0,559.3L896.8,571.6M896.8,571.6L904.1,559.3M904.1,559.3L908.0,571.6M814.2,571.6L814.4,594.5M836.1,571.6L836.3,594.5M868.2,571.6L868.4,594.5M896.8,571.6L896.9,594.5M908.0,571.6L908.1,594.5M811.2,604.7L814.4,594.5M814.4,594.5L822.8,604.7M822.8,604.7L836.3,594.5M836.3,594.5L850.8,604.7M850.8,604.7L868.4,594.5M868.4,594.5L883.5,604.7M883.5,604.7L896.9,594.5M896.9,594.5L904.5,604.7M904.5,604.7L908.1,594.5M822.8,604.7L823.0,627.6M850.8,604.7L851.0,627.6M883.5,604.7L883.7,627.6M904.5,604.7L904.6,627.6M811.2,604.7L811.3,627.6M811.3,627.6L814.7,638.9M814.7,638.9L823.0,627.6M823.0,627.6L836.7,638.9M836.7,638.9L851.0,627.6M851.0,627.6L868.8,638.9M868.8,638.9L883.7,627.6M883.7,627.6L897.2,638.9M897.2,638.9L904.6,627.6M904.6,627.6L908.3,638.9M814.7,638.9L814.8,661.8M836.7,638.9L836.8,661.8M868.8,638.9L869.0,661.8M897.2,638.9L897.3,661.8M908.3,638.9L908.4,661.8M811.5,673.2L814.8,661.8M814.8,661.8L823.4,673.2M823.4,673.2L836.8,661.8M836.8,661.8L851.5,673.2M851.5,673.2L869.0,661.8M869.0,661.8L884.2,673.2M884.2,673.2L897.3,661.8M897.3,661.8L905.0,673.2M905.0,673.2L908.4,661.8M823.4,673.2L823.6,695.9M851.5,673.2L851.7,695.9M884.2,673.2L884.4,695.9M905.0,673.2L905.2,695.9M811.5,673.2L811.6,695.9M811.6,695.9L815.1,706.1M815.1,706.1L823.6,695.9M823.6,695.9L837.2,706.1M837.2,706.1L851.7,695.9M851.7,695.9L869.4,706.1M869.4,706.1L884.4,695.9M884.4,695.9L897.5,706.1M897.5,706.1L905.2,695.9M905.2,695.9L908.5,706.1M815.1,706.1L815.7,727.0M837.2,706.1L837.8,729.0M869.4,706.1L870.0,729.0M897.5,706.1L898.1,729.0M905.5,695.9L908.1,705.3M908.1,705.3L908.5,728.0" stroke="#0d0d0d" stroke-width="2.05" fill="none" stroke-linejoin="round"/>
</g>
<line x1="794.7" y1="428.3" x2="812.8" y2="431.5" stroke="#555" stroke-width="0.9"/>
<line x1="801.0" y1="462.4" x2="812.8" y2="455.0" stroke="#555" stroke-width="0.9"/>
<line x1="828.0" y1="641.0" x2="836.0" y2="636.5" stroke="#555" stroke-width="0.9"/>
<line x1="835.0" y1="660.0" x2="843.0" y2="650.0" stroke="#555" stroke-width="0.9"/>
<text x="781.0" y="414.2" font-size="20.25">H</text>
<text x="781.0" y="431.5" font-size="20.25">N</text>
<text x="766.1" y="472.6" font-size="20.25">EtO</text>
<text x="800.4" y="652.5" font-size="20.25">HN</text>
<text x="841.1" y="652.5" font-size="20.25">OEt</text>
<path d="M1086.3,120.6 L1086.3,645.5 L1759.4,645.5" stroke="#0a0a0a" stroke-width="3.4" fill="none" stroke-linejoin="miter"/>
<line x1="1075.5" y1="645.5" x2="1086.3" y2="645.5" stroke="#0a0a0a" stroke-width="3.0"/>
<line x1="1075.5" y1="558.3" x2="1086.3" y2="558.3" stroke="#0a0a0a" stroke-width="3.0"/>
<line x1="1075.5" y1="471.1" x2="1086.3" y2="471.1" stroke="#0a0a0a" stroke-width="3.0"/>
<line x1="1075.5" y1="383.9" x2="1086.3" y2="383.9" stroke="#0a0a0a" stroke-width="3.0"/>
<line x1="1075.5" y1="296.7" x2="1086.3" y2="296.7" stroke="#0a0a0a" stroke-width="3.0"/>
<line x1="1075.5" y1="209.5" x2="1086.3" y2="209.5" stroke="#0a0a0a" stroke-width="3.0"/>
<line x1="1075.5" y1="122.3" x2="1086.3" y2="122.3" stroke="#0a0a0a" stroke-width="3.0"/>
<line x1="1079.9" y1="601.9" x2="1086.3" y2="601.9" stroke="#0a0a0a" stroke-width="3.0"/>
<line x1="1079.9" y1="514.7" x2="1086.3" y2="514.7" stroke="#0a0a0a" stroke-width="3.0"/>
<line x1="1079.9" y1="427.5" x2="1086.3" y2="427.5" stroke="#0a0a0a" stroke-width="3.0"/>
<line x1="1079.9" y1="340.3" x2="1086.3" y2="340.3" stroke="#0a0a0a" stroke-width="3.0"/>
<line x1="1079.9" y1="253.1" x2="1086.3" y2="253.1" stroke="#0a0a0a" stroke-width="3.0"/>
<line x1="1079.9" y1="165.9" x2="1086.3" y2="165.9" stroke="#0a0a0a" stroke-width="3.0"/>
<line x1="1086.3" y1="645.5" x2="1086.3" y2="657.1" stroke="#0a0a0a" stroke-width="3.0" stroke-linecap="round"/>
<line x1="1220.6" y1="645.5" x2="1220.6" y2="657.1" stroke="#0a0a0a" stroke-width="3.0" stroke-linecap="round"/>
<line x1="1354.9" y1="645.5" x2="1354.9" y2="657.1" stroke="#0a0a0a" stroke-width="3.0" stroke-linecap="round"/>
<line x1="1489.2" y1="645.5" x2="1489.2" y2="657.1" stroke="#0a0a0a" stroke-width="3.0" stroke-linecap="round"/>
<line x1="1623.5" y1="645.5" x2="1623.5" y2="657.1" stroke="#0a0a0a" stroke-width="3.0" stroke-linecap="round"/>
<line x1="1757.8" y1="645.5" x2="1757.8" y2="657.1" stroke="#0a0a0a" stroke-width="3.0" stroke-linecap="round"/>
<line x1="1153.5" y1="645.5" x2="1153.5" y2="652.5" stroke="#0a0a0a" stroke-width="3.0" stroke-linecap="round"/>
<line x1="1287.8" y1="645.5" x2="1287.8" y2="652.5" stroke="#0a0a0a" stroke-width="3.0" stroke-linecap="round"/>
<line x1="1422.0" y1="645.5" x2="1422.0" y2="652.5" stroke="#0a0a0a" stroke-width="3.0" stroke-linecap="round"/>
<line x1="1556.3" y1="645.5" x2="1556.3" y2="652.5" stroke="#0a0a0a" stroke-width="3.0" stroke-linecap="round"/>
<line x1="1690.7" y1="645.5" x2="1690.7" y2="652.5" stroke="#0a0a0a" stroke-width="3.0" stroke-linecap="round"/>
<text x="1071.0" y="654.8" font-size="28.8" text-anchor="end">0</text>
<text x="1071.0" y="567.6" font-size="28.8" text-anchor="end">5</text>
<text x="1071.0" y="480.4" font-size="28.8" text-anchor="end">10</text>
<text x="1071.0" y="393.2" font-size="28.8" text-anchor="end">15</text>
<text x="1071.0" y="306.0" font-size="28.8" text-anchor="end">20</text>
<text x="1071.0" y="218.8" font-size="28.8" text-anchor="end">25</text>
<text x="1071.0" y="131.6" font-size="28.8" text-anchor="end">30</text>
<text x="1086.6" y="688.0" font-size="28.8" text-anchor="middle">0</text>
<text x="1220.5" y="688.0" font-size="28.8" text-anchor="middle">10</text>
<text x="1354.5" y="688.0" font-size="28.8" text-anchor="middle">20</text>
<text x="1488.4" y="688.0" font-size="28.8" text-anchor="middle">30</text>
<text x="1622.4" y="688.0" font-size="28.8" text-anchor="middle">40</text>
<text x="1756.3" y="688.0" font-size="28.8" text-anchor="middle">50</text>
<text x="1415.6" y="737.9" font-size="29.2" text-anchor="middle">Time, h</text>
<text transform="translate(1024.6,412.6) rotate(-90)" font-size="29.2" text-anchor="middle">Boron, µg/g tissue</text>
<polyline points="1166.9,167.6 1301.2,319.4 1489.2,440.1 1730.9,525.5" stroke="#0a0a0a" stroke-width="4.1" fill="none" stroke-linejoin="round" stroke-linecap="round"/>
<rect x="1159.5" y="160.2" width="14.8" height="14.8" fill="#0a0a0a"/>
<rect x="1293.8" y="312.0" width="14.8" height="14.8" fill="#0a0a0a"/>
<rect x="1481.8" y="432.7" width="14.8" height="14.8" fill="#0a0a0a"/>
<rect x="1723.5" y="518.1" width="14.8" height="14.8" fill="#0a0a0a"/>
<polyline points="1166.9,362.4 1301.2,289.7 1489.2,247.9 1730.9,270.5" stroke="#e6151b" stroke-width="4.1" fill="none" stroke-linejoin="round" stroke-linecap="round"/>
<circle cx="1166.9" cy="362.4" r="8.3" fill="#e6151b"/>
<circle cx="1301.2" cy="289.7" r="8.3" fill="#e6151b"/>
<circle cx="1489.2" cy="247.9" r="8.3" fill="#e6151b"/>
<circle cx="1730.9" cy="270.5" r="8.3" fill="#e6151b"/>
<polyline points="1166.9,460.6 1301.2,394.4 1489.2,406.6 1730.9,425.8" stroke="#3b3d9f" stroke-width="4.1" fill="none" stroke-linejoin="round" stroke-linecap="round"/>
<polygon points="1166.9,449.0 1177.1,466.9 1156.7,466.9" fill="#3b3d9f"/>
<polygon points="1301.2,382.8 1311.4,400.7 1291.0,400.7" fill="#3b3d9f"/>
<polygon points="1489.2,395.0 1499.4,412.9 1479.0,412.9" fill="#3b3d9f"/>
<polygon points="1730.9,414.2 1741.1,432.1 1720.7,432.1" fill="#3b3d9f"/>
<polyline points="1166.9,547.0 1301.2,515.2 1489.2,499.7 1730.9,519.1" stroke="#178383" stroke-width="4.1" fill="none" stroke-linejoin="round" stroke-linecap="round"/>
<polygon points="1166.9,558.6 1177.1,540.7 1156.7,540.7" fill="#178383"/>
<polygon points="1301.2,526.8 1311.4,508.9 1291.0,508.9" fill="#178383"/>
<polygon points="1489.2,511.3 1499.4,493.4 1479.0,493.4" fill="#178383"/>
<polygon points="1730.9,530.7 1741.1,512.8 1720.7,512.8" fill="#178383"/>
<polyline points="1166.9,483.7 1301.2,443.7 1489.2,429.6 1730.9,450.2" stroke="#c043a5" stroke-width="4.1" fill="none" stroke-linejoin="round" stroke-linecap="round"/>
<polygon points="1155.5,483.7 1173.2,473.5 1173.2,493.9" fill="#c043a5"/>
<polygon points="1289.8,443.7 1307.5,433.5 1307.5,453.9" fill="#c043a5"/>
<polygon points="1477.8,429.6 1495.5,419.4 1495.5,439.8" fill="#c043a5"/>
<polygon points="1719.5,450.2 1737.2,440.0 1737.2,460.4" fill="#c043a5"/>
<rect x="1230.6" y="116.9" width="278.6" height="96.6" fill="#fff" stroke="#111" stroke-width="1.2"/>
<line x1="1238.6" y1="135.4" x2="1292.6" y2="135.4" stroke="#0a0a0a" stroke-width="4.1" stroke-linecap="round"/>
<rect x="1258.2" y="128.0" width="14.8" height="14.8" fill="#0a0a0a"/>
<text x="1298.8" y="147.2" font-size="24.8">Blood</text>
<line x1="1372.4" y1="135.4" x2="1426.4" y2="135.4" stroke="#e6151b" stroke-width="4.1" stroke-linecap="round"/>
<circle cx="1399.4" cy="135.4" r="8.3" fill="#e6151b"/>
<text x="1433.8" y="146.6" font-size="24.5">Tumor</text>
<line x1="1238.6" y1="167.1" x2="1292.6" y2="167.1" stroke="#3b3d9f" stroke-width="4.1" stroke-linecap="round"/>
<polygon points="1265.6,155.5 1275.8,173.4 1255.4,173.4" fill="#3b3d9f"/>
<text x="1298.8" y="179.4" font-size="24.8">Liver</text>
<line x1="1374.0" y1="167.1" x2="1428.0" y2="167.1" stroke="#178383" stroke-width="4.1" stroke-linecap="round"/>
<polygon points="1401.0,178.7 1411.2,160.8 1390.8,160.8" fill="#178383"/>
<text x="1434.3" y="180.2" font-size="24.8">Lung</text>
<line x1="1238.6" y1="198.6" x2="1292.6" y2="198.6" stroke="#c043a5" stroke-width="4.1" stroke-linecap="round"/>
<polygon points="1253.2,198.6 1270.9,188.4 1270.9,208.8" fill="#c043a5"/>
<text x="1298.6" y="205.6" font-size="25.0">Spleen</text>
<rect x="1542.4" y="36" width="187.1" height="200.6" rx="1.5" fill="#e6de76"/>
<line x1="1556.5" y1="49.0" x2="1560.5" y2="56.5" stroke="#5e5a30" stroke-width="0.7"/>
<polyline points="1606.5,60.3 1611.0,57.5 1616.5,56.0 1622.3,60.3 1629.5,56.0 1636.7,60.3 1643.9,56.0" stroke="#5e5a30" stroke-width="0.7" fill="none"/>
<line x1="1597.2" y1="69.6" x2="1610.5" y2="74.5" stroke="#5e5a30" stroke-width="0.7"/>
<g>
<line x1="1584.0" y1="54.6" x2="1561.2" y2="58.9" stroke="#5e5a30" stroke-width="0.7"/>
<line x1="1584.0" y1="54.6" x2="1606.5" y2="60.3" stroke="#5e5a30" stroke-width="0.7"/>
<line x1="1561.2" y1="58.9" x2="1571.0" y2="69.9" stroke="#5e5a30" stroke-width="0.7"/>
<line x1="1606.5" y1="60.3" x2="1597.2" y2="69.6" stroke="#5e5a30" stroke-width="0.7"/>
<line x1="1571.0" y1="69.9" x2="1597.2" y2="69.6" stroke="#555" stroke-width="0.88"/>
<line x1="1561.2" y1="58.9" x2="1561.8" y2="90.6" stroke="#5e5a30" stroke-width="0.7"/>
<line x1="1561.2" y1="58.9" x2="1571.0" y2="79.7" stroke="#5e5a30" stroke-width="0.7"/>
<line x1="1584.0" y1="54.6" x2="1571.0" y2="79.7" stroke="#5e5a30" stroke-width="0.7"/>
<line x1="1584.0" y1="54.6" x2="1597.2" y2="79.7" stroke="#5e5a30" stroke-width="0.7"/>
<line x1="1606.5" y1="60.3" x2="1597.2" y2="79.7" stroke="#5e5a30" stroke-width="0.7"/>
<line x1="1606.5" y1="60.3" x2="1605.3" y2="91.2" stroke="#5e5a30" stroke-width="0.7"/>
<line x1="1597.2" y1="69.6" x2="1605.3" y2="91.2" stroke="#5e5a30" stroke-width="0.7"/>
<line x1="1597.2" y1="69.6" x2="1584.8" y2="96.4" stroke="#5e5a30" stroke-width="0.7"/>
<line x1="1571.0" y1="69.9" x2="1584.8" y2="96.4" stroke="#5e5a30" stroke-width="0.7"/>
<line x1="1571.0" y1="69.9" x2="1561.8" y2="90.6" stroke="#5e5a30" stroke-width="0.7"/>
<line x1="1584.8" y1="96.4" x2="1561.8" y2="90.6" stroke="#5e5a30" stroke-width="0.7"/>
<line x1="1584.8" y1="96.4" x2="1605.3" y2="91.2" stroke="#5e5a30" stroke-width="0.7"/>
<line x1="1561.8" y1="90.6" x2="1571.0" y2="79.7" stroke="#5e5a30" stroke-width="0.7"/>
<line x1="1605.3" y1="91.2" x2="1597.2" y2="79.7" stroke="#5e5a30" stroke-width="0.7"/>
<line x1="1571.0" y1="79.7" x2="1597.2" y2="79.7" stroke="#555" stroke-width="0.88"/>
<line x1="1584.0" y1="110.8" x2="1561.8" y2="90.6" stroke="#5e5a30" stroke-width="0.7"/>
<line x1="1584.0" y1="110.8" x2="1605.3" y2="91.2" stroke="#5e5a30" stroke-width="0.7"/>
<line x1="1584.0" y1="110.8" x2="1584.8" y2="96.4" stroke="#555" stroke-width="0.88"/>
<line x1="1584.0" y1="110.8" x2="1571.0" y2="79.7" stroke="#5e5a30" stroke-width="0.7"/>
<line x1="1584.0" y1="110.8" x2="1597.2" y2="79.7" stroke="#5e5a30" stroke-width="0.7"/>
<ellipse cx="1584.0" cy="54.6" rx="3.0" ry="3.2" fill="url(#sphy)" stroke="#444" stroke-width="0.9"/>
<ellipse cx="1561.2" cy="58.9" rx="3.0" ry="3.2" fill="url(#sphy)" stroke="#444" stroke-width="0.9"/>
<ellipse cx="1606.5" cy="60.3" rx="3.3" ry="3.5" fill="#0a0a0a"/>
<ellipse cx="1571.0" cy="79.7" rx="3.0" ry="3.2" fill="url(#sphy)" stroke="#444" stroke-width="0.9"/>
<ellipse cx="1597.2" cy="79.7" rx="3.0" ry="3.2" fill="url(#sphy)" stroke="#444" stroke-width="0.9"/>
<ellipse cx="1571.0" cy="69.9" rx="3.0" ry="3.2" fill="url(#sphy)" stroke="#444" stroke-width="0.9"/>
<ellipse cx="1597.2" cy="69.6" rx="3.3" ry="3.5" fill="#0a0a0a"/>
<ellipse cx="1561.8" cy="90.6" rx="3.0" ry="3.2" fill="url(#sphy)" stroke="#444" stroke-width="0.9"/>
<ellipse cx="1605.3" cy="91.2" rx="3.0" ry="3.2" fill="url(#sphy)" stroke="#444" stroke-width="0.9"/>
<ellipse cx="1584.8" cy="96.4" rx="3.0" ry="3.2" fill="url(#sphy)" stroke="#444" stroke-width="0.9"/>
<ellipse cx="1584.0" cy="110.8" rx="3.0" ry="3.2" fill="url(#sphy)" stroke="#444" stroke-width="0.9"/>
</g>
<ellipse cx="1583.4" cy="61.6" rx="11.0" ry="4.4" fill="url(#bell)" stroke="#74c2e6" stroke-width="1.3"/>
<line x1="1561.5" y1="171.5" x2="1566.5" y2="178.5" stroke="#5e5a30" stroke-width="0.7"/>
<polyline points="1611.6,182.0 1615.0,179.5 1624.2,176.8 1632.1,184.7 1641.3,177.5 1647.9,184.7" stroke="#5e5a30" stroke-width="0.7" fill="none"/>
<line x1="1603.0" y1="191.5" x2="1616.5" y2="196.5" stroke="#5e5a30" stroke-width="0.7"/>
<g>
<line x1="1589.7" y1="175.6" x2="1567.6" y2="180.8" stroke="#5e5a30" stroke-width="0.7"/>
<line x1="1589.7" y1="175.6" x2="1611.6" y2="182.0" stroke="#5e5a30" stroke-width="0.7"/>
<line x1="1567.6" y1="180.8" x2="1575.6" y2="191.5" stroke="#5e5a30" stroke-width="0.7"/>
<line x1="1611.6" y1="182.0" x2="1603.0" y2="191.5" stroke="#5e5a30" stroke-width="0.7"/>
<line x1="1575.6" y1="191.5" x2="1603.0" y2="191.5" stroke="#555" stroke-width="0.88"/>
<line x1="1567.6" y1="180.8" x2="1567.6" y2="212.2" stroke="#5e5a30" stroke-width="0.7"/>
<line x1="1567.6" y1="180.8" x2="1576.2" y2="201.6" stroke="#5e5a30" stroke-width="0.7"/>
<line x1="1589.7" y1="175.6" x2="1576.2" y2="201.6" stroke="#5e5a30" stroke-width="0.7"/>
<line x1="1589.7" y1="175.6" x2="1603.0" y2="201.6" stroke="#5e5a30" stroke-width="0.7"/>
<line x1="1611.6" y1="182.0" x2="1603.0" y2="201.6" stroke="#5e5a30" stroke-width="0.7"/>
<line x1="1611.6" y1="182.0" x2="1610.2" y2="212.5" stroke="#5e5a30" stroke-width="0.7"/>
<line x1="1603.0" y1="191.5" x2="1610.2" y2="212.5" stroke="#5e5a30" stroke-width="0.7"/>
<line x1="1603.0" y1="191.5" x2="1590.0" y2="218.0" stroke="#5e5a30" stroke-width="0.7"/>
<line x1="1575.6" y1="191.5" x2="1590.0" y2="218.0" stroke="#5e5a30" stroke-width="0.7"/>
<line x1="1575.6" y1="191.5" x2="1567.6" y2="212.2" stroke="#5e5a30" stroke-width="0.7"/>
<line x1="1590.0" y1="218.0" x2="1567.6" y2="212.2" stroke="#5e5a30" stroke-width="0.7"/>
<line x1="1590.0" y1="218.0" x2="1610.2" y2="212.5" stroke="#5e5a30" stroke-width="0.7"/>
<line x1="1567.6" y1="212.2" x2="1576.2" y2="201.6" stroke="#5e5a30" stroke-width="0.7"/>
<line x1="1610.2" y1="212.5" x2="1603.0" y2="201.6" stroke="#5e5a30" stroke-width="0.7"/>
<line x1="1576.2" y1="201.6" x2="1603.0" y2="201.6" stroke="#555" stroke-width="0.88"/>
<line x1="1589.2" y1="232.4" x2="1567.6" y2="212.2" stroke="#5e5a30" stroke-width="0.7"/>
<line x1="1589.2" y1="232.4" x2="1610.2" y2="212.5" stroke="#5e5a30" stroke-width="0.7"/>
<line x1="1589.2" y1="232.4" x2="1590.0" y2="218.0" stroke="#555" stroke-width="0.88"/>
<line x1="1589.2" y1="232.4" x2="1576.2" y2="201.6" stroke="#5e5a30" stroke-width="0.7"/>
<line x1="1589.2" y1="232.4" x2="1603.0" y2="201.6" stroke="#5e5a30" stroke-width="0.7"/>
<ellipse cx="1589.7" cy="175.6" rx="3.0" ry="3.2" fill="url(#sphy)" stroke="#444" stroke-width="0.9"/>
<ellipse cx="1567.6" cy="180.8" rx="3.0" ry="3.2" fill="url(#sphy)" stroke="#444" stroke-width="0.9"/>
<ellipse cx="1611.6" cy="182.0" rx="3.3" ry="3.5" fill="#0a0a0a"/>
<ellipse cx="1576.2" cy="201.6" rx="3.0" ry="3.2" fill="url(#sphy)" stroke="#444" stroke-width="0.9"/>
<ellipse cx="1603.0" cy="201.6" rx="3.0" ry="3.2" fill="url(#sphy)" stroke="#444" stroke-width="0.9"/>
<ellipse cx="1575.6" cy="191.5" rx="3.0" ry="3.2" fill="url(#sphy)" stroke="#444" stroke-width="0.9"/>
<ellipse cx="1603.0" cy="191.5" rx="3.3" ry="3.5" fill="#0a0a0a"/>
<ellipse cx="1567.6" cy="212.2" rx="3.0" ry="3.2" fill="url(#sphy)" stroke="#444" stroke-width="0.9"/>
<ellipse cx="1610.2" cy="212.5" rx="3.0" ry="3.2" fill="url(#sphy)" stroke="#444" stroke-width="0.9"/>
<ellipse cx="1590.0" cy="218.0" rx="3.0" ry="3.2" fill="url(#sphy)" stroke="#444" stroke-width="0.9"/>
<ellipse cx="1589.2" cy="232.4" rx="3.0" ry="3.2" fill="url(#sphy)" stroke="#444" stroke-width="0.9"/>
</g>
<ellipse cx="1590.2" cy="183.6" rx="11.0" ry="4.4" fill="url(#bell)" stroke="#74c2e6" stroke-width="1.3"/>
<g stroke-linecap="round">
<path d="M1659.6,38.5L1659.6,50.7M1676.3,56.7L1682.5,52.3M1684.4,52.4L1692.5,56.7M1705.3,52.3L1711.8,56.7M1715.9,56.4L1718.9,52.0M1719.7,59.0L1719.8,68.0M1661.8,70.5L1665.5,74.8M1666.0,74.7L1672.0,70.3M1684.7,74.6L1692.6,70.2M1697.5,70.2L1704.1,74.6M1716.0,70.5L1719.1,74.9M1659.7,78.6L1659.7,87.3M1662.0,95.6L1665.7,91.0M1676.7,95.8L1683.0,91.2M1684.8,91.3L1692.9,95.9M1705.7,91.3L1712.1,95.8M1716.2,95.5L1719.3,91.0M1719.9,98.2L1720.0,107.2M1666.4,113.7L1672.3,109.5M1676.8,109.4L1683.2,113.7M1697.9,109.4L1704.5,113.7M1706.0,113.7L1712.2,109.4M1659.9,117.7L1659.9,126.7M1662.4,135.2L1666.0,130.5M1666.5,130.7L1672.5,135.4M1685.3,130.8L1693.3,135.5M1698.2,135.4L1704.8,130.7M1716.4,135.1L1719.6,130.4M1720.1,137.8L1720.2,146.6M1662.4,148.8L1666.2,152.8M1677.1,148.7L1683.6,152.6M1685.6,152.5L1693.5,148.6M1706.5,152.6L1712.5,148.7M1716.4,148.9L1719.8,152.8M1660.1,156.4L1660.1,165.2M1666.9,169.1L1672.9,173.5M1677.4,173.5L1683.8,169.1M1698.5,173.5L1705.2,169.1M1706.6,169.1L1712.6,173.5M1720.3,175.7L1720.3,184.5M1662.8,186.9L1666.6,191.3M1667.1,191.1L1673.1,186.7M1686.0,191.0L1693.9,186.6M1698.7,186.7L1705.4,191.1M1716.7,186.9L1720.1,191.3M1660.2,195.0L1660.3,203.7M1662.9,211.3L1666.7,207.4M1677.7,211.5L1684.2,207.6M1686.3,207.7L1694.1,211.6M1707.0,207.6L1712.9,211.5M1716.8,211.3L1720.2,207.4M1720.5,213.8L1720.5,221.9" stroke="#5c5a2c" stroke-width="0.6" fill="none"/>
<path d="M1664.9,38.5L1665.1,50.4M1683.0,38.5L1683.2,50.4M1704.4,39.4L1704.6,50.4M1718.4,39.4L1718.6,50.4M1658.0,38.5L1658.0,51.0M1658.0,51.0L1659.8,56.9M1659.8,56.9L1665.1,50.4M1665.1,50.4L1674.0,56.9M1674.0,56.9L1683.2,50.4M1683.2,50.4L1695.0,56.9M1695.0,56.9L1704.6,50.4M1704.6,50.4L1714.1,56.9M1714.1,56.9L1718.6,50.4M1718.6,50.4L1721.5,56.9M1659.8,56.9L1659.9,70.1M1674.0,56.9L1674.2,70.1M1695.0,56.9L1695.2,70.1M1714.1,56.9L1714.2,70.1M1721.5,56.9L1721.6,70.1M1658.1,76.5L1659.9,70.1M1659.9,70.1L1665.4,76.5M1665.4,76.5L1674.2,70.1M1674.2,70.1L1683.5,76.5M1683.5,76.5L1695.2,70.1M1695.2,70.1L1704.9,76.5M1704.9,76.5L1714.2,70.1M1714.2,70.1L1718.8,76.5M1718.8,76.5L1721.6,70.1M1665.4,76.5L1665.5,89.3M1683.5,76.5L1683.6,89.3M1704.9,76.5L1705.0,89.3M1718.8,76.5L1718.9,89.3M1658.1,76.5L1658.2,89.3M1658.2,89.3L1660.2,96.1M1660.2,96.1L1665.5,89.3M1665.5,89.3L1674.4,96.1M1674.4,96.1L1683.6,89.3M1683.6,89.3L1695.4,96.1M1695.4,96.1L1705.0,89.3M1705.0,89.3L1714.4,96.1M1714.4,96.1L1718.9,89.3M1718.9,89.3L1721.7,96.1M1660.2,96.1L1660.3,109.3M1674.4,96.1L1674.5,109.3M1695.4,96.1L1695.6,109.3M1714.4,96.1L1714.4,109.3M1721.7,96.1L1721.8,109.3M1658.3,115.6L1660.3,109.3M1660.3,109.3L1665.7,115.6M1665.7,115.6L1674.5,109.3M1674.5,109.3L1683.9,115.6M1683.9,115.6L1695.6,109.3M1695.6,109.3L1705.4,115.6M1705.4,115.6L1714.4,109.3M1714.4,109.3L1719.2,115.6M1719.2,115.6L1721.8,109.3M1665.7,115.6L1665.9,128.8M1683.9,115.6L1684.1,128.8M1705.4,115.6L1705.5,128.8M1719.2,115.6L1719.3,128.8M1658.3,115.6L1658.4,128.8M1658.4,128.8L1660.5,135.7M1660.5,135.7L1665.9,128.8M1665.9,128.8L1674.8,135.7M1674.8,135.7L1684.1,128.8M1684.1,128.8L1695.8,135.7M1695.8,135.7L1705.5,128.8M1705.5,128.8L1714.6,135.7M1714.6,135.7L1719.3,128.8M1719.3,128.8L1721.9,135.7M1660.5,135.7L1660.6,148.6M1674.8,135.7L1674.9,148.6M1695.8,135.7L1696.0,148.6M1714.6,135.7L1714.6,148.6M1721.9,135.7L1721.9,148.6M1658.5,154.4L1660.6,148.6M1660.6,148.6L1666.1,154.4M1666.1,154.4L1674.9,148.6M1674.9,148.6L1684.4,154.4M1684.4,154.4L1696.0,148.6M1696.0,148.6L1705.8,154.4M1705.8,154.4L1714.6,148.6M1714.6,148.6L1719.6,154.4M1719.6,154.4L1721.9,148.6M1666.1,154.4L1666.2,167.3M1684.4,154.4L1684.6,167.3M1705.8,154.4L1706.0,167.3M1719.6,154.4L1719.7,167.3M1658.5,154.4L1658.5,167.3M1658.5,167.3L1660.8,173.6M1660.8,173.6L1666.2,167.3M1666.2,167.3L1675.2,173.6M1675.2,173.6L1684.6,167.3M1684.6,167.3L1696.2,173.6M1696.2,173.6L1706.0,167.3M1706.0,167.3L1714.8,173.6M1714.8,173.6L1719.7,167.3M1719.7,167.3L1722.1,173.6M1660.8,173.6L1660.9,186.5M1675.2,173.6L1675.3,186.5M1696.2,173.6L1696.4,186.5M1714.8,173.6L1714.9,186.5M1722.1,173.6L1722.1,186.5M1658.7,193.0L1660.9,186.5M1660.9,186.5L1666.5,193.0M1666.5,193.0L1675.3,186.5M1675.3,186.5L1684.9,193.0M1684.9,193.0L1696.4,186.5M1696.4,186.5L1706.3,193.0M1706.3,193.0L1714.9,186.5M1714.9,186.5L1719.9,193.0M1719.9,193.0L1722.1,186.5M1666.5,193.0L1666.6,205.8M1684.9,193.0L1685.0,205.8M1706.3,193.0L1706.4,205.8M1719.9,193.0L1720.1,205.8M1658.7,193.0L1658.7,205.8M1658.7,205.8L1661.1,211.6M1661.1,211.6L1666.6,205.8M1666.6,205.8L1675.5,211.6M1675.5,211.6L1685.0,205.8M1685.0,205.8L1696.6,211.6M1696.6,211.6L1706.4,205.8M1706.4,205.8L1715.0,211.6M1715.0,211.6L1720.1,205.8M1720.1,205.8L1722.2,211.6M1661.1,211.6L1661.5,223.3M1675.5,211.6L1675.9,224.4M1696.6,211.6L1697.0,224.4M1715.0,211.6L1715.4,224.4M1720.2,205.8L1722.0,211.1M1722.0,211.1L1722.2,223.9" stroke="#15150c" stroke-width="1.45" fill="none" stroke-linejoin="round"/>
</g>
<text transform="translate(1677.4,49.6) rotate(90)" font-size="36" font-family="Liberation Serif, Times New Roman, serif" fill="#3f4cab" textLength="127" lengthAdjust="spacingAndGlyphs">SWCNT</text>
<line x1="1651.5" y1="50.5" x2="1658.5" y2="54.0" stroke="#5e5a30" stroke-width="0.7"/>
<line x1="1654.0" y1="76.0" x2="1659.5" y2="72.5" stroke="#5e5a30" stroke-width="0.7"/>
<g stroke="#131313" stroke-width="0.3">
<text x="1552.0" y="47.4" font-size="12.2">H</text>
<text x="1575.3" y="47.4" font-size="12.2">Na<tspan font-size="9.5" dy="-3.8">+</tspan></text>
<text x="1644.2" y="48.0" font-size="12.2">H</text>
<text x="1612.0" y="80.5" font-size="12.2">Me EtO</text>
<text x="1555.7" y="169.9" font-size="12.2">H</text>
<text x="1580.2" y="167.0" font-size="12.2">Na<tspan font-size="9.5" dy="-3.8">+</tspan></text>
<text x="1617.8" y="201.6" font-size="12.2">Me</text>
<text x="1645.0" y="182.5" font-size="12.2">HN</text>
<text x="1676.0" y="181.4" font-size="12.2">OEt</text>
</g>
</svg>
</body></html>
